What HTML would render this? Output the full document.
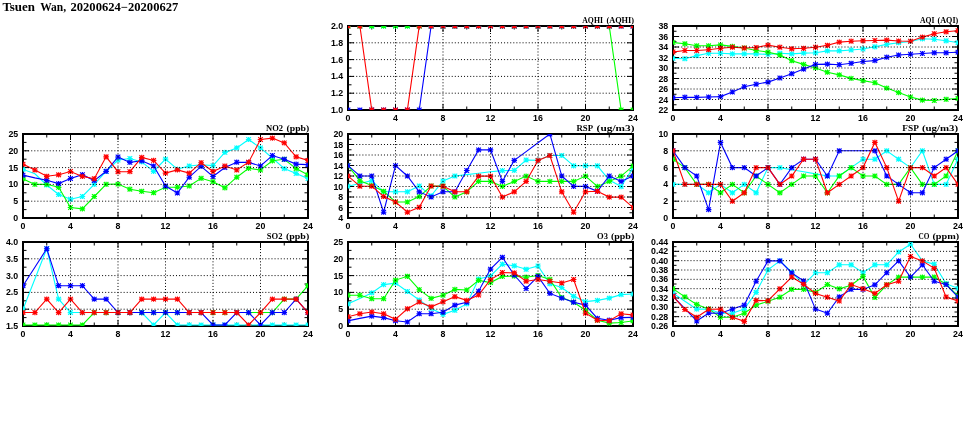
<!DOCTYPE html>
<html><head><meta charset="utf-8"><style>html,body{margin:0;padding:0;background:#fff;width:975px;height:447px;overflow:hidden}svg{display:block;will-change:transform}</style></head>
<body><svg width="975" height="447" viewBox="0 0 975 447">
<rect width="975" height="447" fill="#fff"/>
<g font-family="Liberation Serif, serif" font-weight="bold" font-size="11.8"><text x="2.4" y="10.9" textLength="32.6" lengthAdjust="spacingAndGlyphs">Tsuen</text><text x="40.2" y="10.9" textLength="25.9" lengthAdjust="spacingAndGlyphs">Wan,</text><text x="70.5" y="10.9" textLength="107.8" lengthAdjust="spacingAndGlyphs">20200624&#8722;20200627</text></g>
<path d="M371.750 26v3.5M371.750 110v-3.5M395.500 26v6M395.500 110v-6M419.250 26v3.5M419.250 110v-3.5M443.000 26v6M443.000 110v-6M466.750 26v3.5M466.750 110v-3.5M490.500 26v6M490.500 110v-6M514.250 26v3.5M514.250 110v-3.5M538.000 26v6M538.000 110v-6M561.750 26v3.5M561.750 110v-3.5M585.500 26v6M585.500 110v-6M609.250 26v3.5M609.250 110v-3.5M348 101.600h3.5M633 101.600h-3.5M348 93.200h6M633 93.200h-6M348 84.800h3.5M633 84.800h-3.5M348 76.400h6M633 76.400h-6M348 68.000h3.5M633 68.000h-3.5M348 59.600h6M633 59.600h-6M348 51.200h3.5M633 51.200h-3.5M348 42.800h6M633 42.800h-6M348 34.400h3.5M633 34.400h-3.5" stroke="#000" stroke-width="1"/>
<rect x="348" y="26" width="285" height="84" fill="none" stroke="#000" stroke-width="2"/>
<clipPath id="clipAQHI"><rect x="348" y="26" width="285" height="84"/></clipPath>
<clipPath id="clipAQHIi"><rect x="349" y="27" width="283" height="82"/></clipPath>
<g>
<path clip-path="url(#clipAQHIi)" d="M348.00 26.00L359.88 26.00L371.75 26.00L383.62 26.00L395.50 26.00L407.38 26.00L419.25 26.00L431.12 26.00L443.00 26.00L454.88 26.00L466.75 26.00L478.62 26.00L490.50 26.00L502.38 26.00L514.25 26.00L526.12 26.00L538.00 26.00L549.88 26.00L561.75 26.00L573.62 26.00L585.50 26.00L597.38 26.00L609.25 26.00L621.12 26.00L633.00 26.00" fill="none" stroke="#00ffff" stroke-width="1.1"/>
<path clip-path="url(#clipAQHI)" d="M345.20 26.00H350.80M348.00 23.40V28.60M345.70 23.70L350.30 28.30M345.70 28.30L350.30 23.70M357.07 26.00H362.68M359.88 23.40V28.60M357.57 23.70L362.18 28.30M357.57 28.30L362.18 23.70M368.95 26.00H374.55M371.75 23.40V28.60M369.45 23.70L374.05 28.30M369.45 28.30L374.05 23.70M380.82 26.00H386.43M383.62 23.40V28.60M381.32 23.70L385.93 28.30M381.32 28.30L385.93 23.70M392.70 26.00H398.30M395.50 23.40V28.60M393.20 23.70L397.80 28.30M393.20 28.30L397.80 23.70M404.57 26.00H410.18M407.38 23.40V28.60M405.07 23.70L409.68 28.30M405.07 28.30L409.68 23.70M416.45 26.00H422.05M419.25 23.40V28.60M416.95 23.70L421.55 28.30M416.95 28.30L421.55 23.70M428.32 26.00H433.93M431.12 23.40V28.60M428.82 23.70L433.43 28.30M428.82 28.30L433.43 23.70M440.20 26.00H445.80M443.00 23.40V28.60M440.70 23.70L445.30 28.30M440.70 28.30L445.30 23.70M452.07 26.00H457.68M454.88 23.40V28.60M452.57 23.70L457.18 28.30M452.57 28.30L457.18 23.70M463.95 26.00H469.55M466.75 23.40V28.60M464.45 23.70L469.05 28.30M464.45 28.30L469.05 23.70M475.82 26.00H481.43M478.62 23.40V28.60M476.32 23.70L480.93 28.30M476.32 28.30L480.93 23.70M487.70 26.00H493.30M490.50 23.40V28.60M488.20 23.70L492.80 28.30M488.20 28.30L492.80 23.70M499.57 26.00H505.18M502.38 23.40V28.60M500.07 23.70L504.68 28.30M500.07 28.30L504.68 23.70M511.45 26.00H517.05M514.25 23.40V28.60M511.95 23.70L516.55 28.30M511.95 28.30L516.55 23.70M523.33 26.00H528.92M526.12 23.40V28.60M523.83 23.70L528.42 28.30M523.83 28.30L528.42 23.70M535.20 26.00H540.80M538.00 23.40V28.60M535.70 23.70L540.30 28.30M535.70 28.30L540.30 23.70M547.08 26.00H552.67M549.88 23.40V28.60M547.58 23.70L552.17 28.30M547.58 28.30L552.17 23.70M558.95 26.00H564.55M561.75 23.40V28.60M559.45 23.70L564.05 28.30M559.45 28.30L564.05 23.70M570.83 26.00H576.42M573.62 23.40V28.60M571.33 23.70L575.92 28.30M571.33 28.30L575.92 23.70M582.70 26.00H588.30M585.50 23.40V28.60M583.20 23.70L587.80 28.30M583.20 28.30L587.80 23.70M594.58 26.00H600.17M597.38 23.40V28.60M595.08 23.70L599.67 28.30M595.08 28.30L599.67 23.70M606.45 26.00H612.05M609.25 23.40V28.60M606.95 23.70L611.55 28.30M606.95 28.30L611.55 23.70M618.33 26.00H623.92M621.12 23.40V28.60M618.83 23.70L623.42 28.30M618.83 28.30L623.42 23.70M630.20 26.00H635.80M633.00 23.40V28.60M630.70 23.70L635.30 28.30M630.70 28.30L635.30 23.70" fill="none" stroke="#00ffff" stroke-width="1.15"/>
<path clip-path="url(#clipAQHIi)" d="M348.00 26.00L359.88 26.00L371.75 26.00L383.62 26.00L395.50 26.00L407.38 26.00L419.25 26.00L431.12 26.00L443.00 26.00L454.88 26.00L466.75 26.00L478.62 26.00L490.50 26.00L502.38 26.00L514.25 26.00L526.12 26.00L538.00 26.00L549.88 26.00L561.75 26.00L573.62 26.00L585.50 26.00L597.38 26.00L609.25 26.00L621.12 110.00L633.00 110.00" fill="none" stroke="#00ff00" stroke-width="1.1"/>
<path clip-path="url(#clipAQHI)" d="M345.20 26.00H350.80M348.00 23.40V28.60M345.70 23.70L350.30 28.30M345.70 28.30L350.30 23.70M357.07 26.00H362.68M359.88 23.40V28.60M357.57 23.70L362.18 28.30M357.57 28.30L362.18 23.70M368.95 26.00H374.55M371.75 23.40V28.60M369.45 23.70L374.05 28.30M369.45 28.30L374.05 23.70M380.82 26.00H386.43M383.62 23.40V28.60M381.32 23.70L385.93 28.30M381.32 28.30L385.93 23.70M392.70 26.00H398.30M395.50 23.40V28.60M393.20 23.70L397.80 28.30M393.20 28.30L397.80 23.70M404.57 26.00H410.18M407.38 23.40V28.60M405.07 23.70L409.68 28.30M405.07 28.30L409.68 23.70M416.45 26.00H422.05M419.25 23.40V28.60M416.95 23.70L421.55 28.30M416.95 28.30L421.55 23.70M428.32 26.00H433.93M431.12 23.40V28.60M428.82 23.70L433.43 28.30M428.82 28.30L433.43 23.70M440.20 26.00H445.80M443.00 23.40V28.60M440.70 23.70L445.30 28.30M440.70 28.30L445.30 23.70M452.07 26.00H457.68M454.88 23.40V28.60M452.57 23.70L457.18 28.30M452.57 28.30L457.18 23.70M463.95 26.00H469.55M466.75 23.40V28.60M464.45 23.70L469.05 28.30M464.45 28.30L469.05 23.70M475.82 26.00H481.43M478.62 23.40V28.60M476.32 23.70L480.93 28.30M476.32 28.30L480.93 23.70M487.70 26.00H493.30M490.50 23.40V28.60M488.20 23.70L492.80 28.30M488.20 28.30L492.80 23.70M499.57 26.00H505.18M502.38 23.40V28.60M500.07 23.70L504.68 28.30M500.07 28.30L504.68 23.70M511.45 26.00H517.05M514.25 23.40V28.60M511.95 23.70L516.55 28.30M511.95 28.30L516.55 23.70M523.33 26.00H528.92M526.12 23.40V28.60M523.83 23.70L528.42 28.30M523.83 28.30L528.42 23.70M535.20 26.00H540.80M538.00 23.40V28.60M535.70 23.70L540.30 28.30M535.70 28.30L540.30 23.70M547.08 26.00H552.67M549.88 23.40V28.60M547.58 23.70L552.17 28.30M547.58 28.30L552.17 23.70M558.95 26.00H564.55M561.75 23.40V28.60M559.45 23.70L564.05 28.30M559.45 28.30L564.05 23.70M570.83 26.00H576.42M573.62 23.40V28.60M571.33 23.70L575.92 28.30M571.33 28.30L575.92 23.70M582.70 26.00H588.30M585.50 23.40V28.60M583.20 23.70L587.80 28.30M583.20 28.30L587.80 23.70M594.58 26.00H600.17M597.38 23.40V28.60M595.08 23.70L599.67 28.30M595.08 28.30L599.67 23.70M606.45 26.00H612.05M609.25 23.40V28.60M606.95 23.70L611.55 28.30M606.95 28.30L611.55 23.70M618.33 110.00H623.92M621.12 107.40V112.60M618.83 107.70L623.42 112.30M618.83 112.30L623.42 107.70M630.20 110.00H635.80M633.00 107.40V112.60M630.70 107.70L635.30 112.30M630.70 112.30L635.30 107.70" fill="none" stroke="#00ff00" stroke-width="1.15"/>
<path clip-path="url(#clipAQHIi)" d="M348.00 110.00L359.88 110.00L371.75 110.00L383.62 110.00L395.50 110.00L407.38 110.00L419.25 110.00L431.12 26.00L443.00 26.00L454.88 26.00L466.75 26.00L478.62 26.00L490.50 26.00L502.38 26.00L514.25 26.00L526.12 26.00L538.00 26.00L549.88 26.00L561.75 26.00L573.62 26.00L585.50 26.00L597.38 26.00L609.25 26.00L621.12 26.00L633.00 26.00" fill="none" stroke="#0000ff" stroke-width="1.1"/>
<path clip-path="url(#clipAQHI)" d="M345.20 110.00H350.80M348.00 107.40V112.60M345.70 107.70L350.30 112.30M345.70 112.30L350.30 107.70M357.07 110.00H362.68M359.88 107.40V112.60M357.57 107.70L362.18 112.30M357.57 112.30L362.18 107.70M368.95 110.00H374.55M371.75 107.40V112.60M369.45 107.70L374.05 112.30M369.45 112.30L374.05 107.70M380.82 110.00H386.43M383.62 107.40V112.60M381.32 107.70L385.93 112.30M381.32 112.30L385.93 107.70M392.70 110.00H398.30M395.50 107.40V112.60M393.20 107.70L397.80 112.30M393.20 112.30L397.80 107.70M404.57 110.00H410.18M407.38 107.40V112.60M405.07 107.70L409.68 112.30M405.07 112.30L409.68 107.70M416.45 110.00H422.05M419.25 107.40V112.60M416.95 107.70L421.55 112.30M416.95 112.30L421.55 107.70M428.32 26.00H433.93M431.12 23.40V28.60M428.82 23.70L433.43 28.30M428.82 28.30L433.43 23.70M440.20 26.00H445.80M443.00 23.40V28.60M440.70 23.70L445.30 28.30M440.70 28.30L445.30 23.70M452.07 26.00H457.68M454.88 23.40V28.60M452.57 23.70L457.18 28.30M452.57 28.30L457.18 23.70M463.95 26.00H469.55M466.75 23.40V28.60M464.45 23.70L469.05 28.30M464.45 28.30L469.05 23.70M475.82 26.00H481.43M478.62 23.40V28.60M476.32 23.70L480.93 28.30M476.32 28.30L480.93 23.70M487.70 26.00H493.30M490.50 23.40V28.60M488.20 23.70L492.80 28.30M488.20 28.30L492.80 23.70M499.57 26.00H505.18M502.38 23.40V28.60M500.07 23.70L504.68 28.30M500.07 28.30L504.68 23.70M511.45 26.00H517.05M514.25 23.40V28.60M511.95 23.70L516.55 28.30M511.95 28.30L516.55 23.70M523.33 26.00H528.92M526.12 23.40V28.60M523.83 23.70L528.42 28.30M523.83 28.30L528.42 23.70M535.20 26.00H540.80M538.00 23.40V28.60M535.70 23.70L540.30 28.30M535.70 28.30L540.30 23.70M547.08 26.00H552.67M549.88 23.40V28.60M547.58 23.70L552.17 28.30M547.58 28.30L552.17 23.70M558.95 26.00H564.55M561.75 23.40V28.60M559.45 23.70L564.05 28.30M559.45 28.30L564.05 23.70M570.83 26.00H576.42M573.62 23.40V28.60M571.33 23.70L575.92 28.30M571.33 28.30L575.92 23.70M582.70 26.00H588.30M585.50 23.40V28.60M583.20 23.70L587.80 28.30M583.20 28.30L587.80 23.70M594.58 26.00H600.17M597.38 23.40V28.60M595.08 23.70L599.67 28.30M595.08 28.30L599.67 23.70M606.45 26.00H612.05M609.25 23.40V28.60M606.95 23.70L611.55 28.30M606.95 28.30L611.55 23.70M618.33 26.00H623.92M621.12 23.40V28.60M618.83 23.70L623.42 28.30M618.83 28.30L623.42 23.70M630.20 26.00H635.80M633.00 23.40V28.60M630.70 23.70L635.30 28.30M630.70 28.30L635.30 23.70" fill="none" stroke="#0000ff" stroke-width="1.15"/>
<path clip-path="url(#clipAQHIi)" d="M348.00 26.00L359.88 26.00L371.75 110.00L383.62 110.00L395.50 110.00L407.38 110.00L419.25 26.00L431.12 26.00L443.00 26.00L454.88 26.00L466.75 26.00L478.62 26.00L490.50 26.00L502.38 26.00L514.25 26.00L526.12 26.00L538.00 26.00L549.88 26.00L561.75 26.00L573.62 26.00L585.50 26.00L597.38 26.00L609.25 26.00L621.12 26.00L633.00 26.00" fill="none" stroke="#ff0000" stroke-width="1.1"/>
<path clip-path="url(#clipAQHI)" d="M345.20 26.00H350.80M348.00 23.40V28.60M345.70 23.70L350.30 28.30M345.70 28.30L350.30 23.70M357.07 26.00H362.68M359.88 23.40V28.60M357.57 23.70L362.18 28.30M357.57 28.30L362.18 23.70M368.95 110.00H374.55M371.75 107.40V112.60M369.45 107.70L374.05 112.30M369.45 112.30L374.05 107.70M380.82 110.00H386.43M383.62 107.40V112.60M381.32 107.70L385.93 112.30M381.32 112.30L385.93 107.70M392.70 110.00H398.30M395.50 107.40V112.60M393.20 107.70L397.80 112.30M393.20 112.30L397.80 107.70M404.57 110.00H410.18M407.38 107.40V112.60M405.07 107.70L409.68 112.30M405.07 112.30L409.68 107.70M416.45 26.00H422.05M419.25 23.40V28.60M416.95 23.70L421.55 28.30M416.95 28.30L421.55 23.70M428.32 26.00H433.93M431.12 23.40V28.60M428.82 23.70L433.43 28.30M428.82 28.30L433.43 23.70M440.20 26.00H445.80M443.00 23.40V28.60M440.70 23.70L445.30 28.30M440.70 28.30L445.30 23.70M452.07 26.00H457.68M454.88 23.40V28.60M452.57 23.70L457.18 28.30M452.57 28.30L457.18 23.70M463.95 26.00H469.55M466.75 23.40V28.60M464.45 23.70L469.05 28.30M464.45 28.30L469.05 23.70M475.82 26.00H481.43M478.62 23.40V28.60M476.32 23.70L480.93 28.30M476.32 28.30L480.93 23.70M487.70 26.00H493.30M490.50 23.40V28.60M488.20 23.70L492.80 28.30M488.20 28.30L492.80 23.70M499.57 26.00H505.18M502.38 23.40V28.60M500.07 23.70L504.68 28.30M500.07 28.30L504.68 23.70M511.45 26.00H517.05M514.25 23.40V28.60M511.95 23.70L516.55 28.30M511.95 28.30L516.55 23.70M523.33 26.00H528.92M526.12 23.40V28.60M523.83 23.70L528.42 28.30M523.83 28.30L528.42 23.70M535.20 26.00H540.80M538.00 23.40V28.60M535.70 23.70L540.30 28.30M535.70 28.30L540.30 23.70M547.08 26.00H552.67M549.88 23.40V28.60M547.58 23.70L552.17 28.30M547.58 28.30L552.17 23.70M558.95 26.00H564.55M561.75 23.40V28.60M559.45 23.70L564.05 28.30M559.45 28.30L564.05 23.70M570.83 26.00H576.42M573.62 23.40V28.60M571.33 23.70L575.92 28.30M571.33 28.30L575.92 23.70M582.70 26.00H588.30M585.50 23.40V28.60M583.20 23.70L587.80 28.30M583.20 28.30L587.80 23.70M594.58 26.00H600.17M597.38 23.40V28.60M595.08 23.70L599.67 28.30M595.08 28.30L599.67 23.70M606.45 26.00H612.05M609.25 23.40V28.60M606.95 23.70L611.55 28.30M606.95 28.30L611.55 23.70M618.33 26.00H623.92M621.12 23.40V28.60M618.83 23.70L623.42 28.30M618.83 28.30L623.42 23.70M630.20 26.00H635.80M633.00 23.40V28.60M630.70 23.70L635.30 28.30M630.70 28.30L635.30 23.70" fill="none" stroke="#ff0000" stroke-width="1.15"/>
</g>
<path d="M395.500 110V26M443.000 110V26M490.500 110V26M538.000 110V26M585.500 110V26M348 93.200H633M348 76.400H633M348 59.600H633M348 42.800H633" stroke="#000" stroke-width="1" stroke-dasharray="1 2.08" stroke-dashoffset="1"/>
<g font-family="Liberation Sans, sans-serif" font-weight="bold" font-size="8.8"><text x="343.2" y="113.00" text-anchor="end">1.0</text><text x="343.2" y="96.20" text-anchor="end">1.2</text><text x="343.2" y="79.40" text-anchor="end">1.4</text><text x="343.2" y="62.60" text-anchor="end">1.6</text><text x="343.2" y="45.80" text-anchor="end">1.8</text><text x="343.2" y="29.00" text-anchor="end">2.0</text><text x="348.00" y="121.20" text-anchor="middle">0</text><text x="395.50" y="121.20" text-anchor="middle">4</text><text x="443.00" y="121.20" text-anchor="middle">8</text><text x="490.50" y="121.20" text-anchor="middle">12</text><text x="538.00" y="121.20" text-anchor="middle">16</text><text x="585.50" y="121.20" text-anchor="middle">20</text><text x="633.00" y="121.20" text-anchor="middle">24</text></g>
<g font-family="Liberation Serif, serif" font-weight="bold" font-size="9"><text x="582.30" y="22.70" textLength="20.60" lengthAdjust="spacingAndGlyphs">AQHI</text><text x="606.40" y="22.70" textLength="27.70" lengthAdjust="spacingAndGlyphs">(AQHI)</text></g>
<path d="M696.750 26v3.5M696.750 110v-3.5M720.500 26v6M720.500 110v-6M744.250 26v3.5M744.250 110v-3.5M768.000 26v6M768.000 110v-6M791.750 26v3.5M791.750 110v-3.5M815.500 26v6M815.500 110v-6M839.250 26v3.5M839.250 110v-3.5M863.000 26v6M863.000 110v-6M886.750 26v3.5M886.750 110v-3.5M910.500 26v6M910.500 110v-6M934.250 26v3.5M934.250 110v-3.5M673 104.750h3.5M958 104.750h-3.5M673 99.500h6M958 99.500h-6M673 94.250h3.5M958 94.250h-3.5M673 89.000h6M958 89.000h-6M673 83.750h3.5M958 83.750h-3.5M673 78.500h6M958 78.500h-6M673 73.250h3.5M958 73.250h-3.5M673 68.000h6M958 68.000h-6M673 62.750h3.5M958 62.750h-3.5M673 57.500h6M958 57.500h-6M673 52.250h3.5M958 52.250h-3.5M673 47.000h6M958 47.000h-6M673 41.750h3.5M958 41.750h-3.5M673 36.500h6M958 36.500h-6M673 31.250h3.5M958 31.250h-3.5" stroke="#000" stroke-width="1"/>
<rect x="673" y="26" width="285" height="84" fill="none" stroke="#000" stroke-width="2"/>
<clipPath id="clipAQI"><rect x="673" y="26" width="285" height="84"/></clipPath>
<clipPath id="clipAQIi"><rect x="674" y="27" width="283" height="82"/></clipPath>
<g>
<path clip-path="url(#clipAQIi)" d="M673.00 58.40L684.88 58.70L696.75 55.60L708.62 53.30L720.50 53.30L732.38 53.90L744.25 53.90L756.12 53.90L768.00 54.40L779.88 53.30L791.75 53.90L803.62 53.10L815.50 52.80L827.38 50.90L839.25 50.90L851.12 50.00L863.00 49.00L874.88 46.80L886.75 44.40L898.62 42.70L910.50 41.50L922.38 38.80L934.25 39.30L946.12 40.80L958.00 42.70" fill="none" stroke="#00ffff" stroke-width="1.1"/>
<path clip-path="url(#clipAQI)" d="M670.20 58.40H675.80M673.00 55.80V61.00M670.70 56.10L675.30 60.70M670.70 60.70L675.30 56.10M682.08 58.70H687.67M684.88 56.10V61.30M682.58 56.40L687.17 61.00M682.58 61.00L687.17 56.40M693.95 55.60H699.55M696.75 53.00V58.20M694.45 53.30L699.05 57.90M694.45 57.90L699.05 53.30M705.83 53.30H711.42M708.62 50.70V55.90M706.33 51.00L710.92 55.60M706.33 55.60L710.92 51.00M717.70 53.30H723.30M720.50 50.70V55.90M718.20 51.00L722.80 55.60M718.20 55.60L722.80 51.00M729.58 53.90H735.17M732.38 51.30V56.50M730.08 51.60L734.67 56.20M730.08 56.20L734.67 51.60M741.45 53.90H747.05M744.25 51.30V56.50M741.95 51.60L746.55 56.20M741.95 56.20L746.55 51.60M753.33 53.90H758.92M756.12 51.30V56.50M753.83 51.60L758.42 56.20M753.83 56.20L758.42 51.60M765.20 54.40H770.80M768.00 51.80V57.00M765.70 52.10L770.30 56.70M765.70 56.70L770.30 52.10M777.08 53.30H782.67M779.88 50.70V55.90M777.58 51.00L782.17 55.60M777.58 55.60L782.17 51.00M788.95 53.90H794.55M791.75 51.30V56.50M789.45 51.60L794.05 56.20M789.45 56.20L794.05 51.60M800.83 53.10H806.42M803.62 50.50V55.70M801.33 50.80L805.92 55.40M801.33 55.40L805.92 50.80M812.70 52.80H818.30M815.50 50.20V55.40M813.20 50.50L817.80 55.10M813.20 55.10L817.80 50.50M824.58 50.90H830.17M827.38 48.30V53.50M825.08 48.60L829.67 53.20M825.08 53.20L829.67 48.60M836.45 50.90H842.05M839.25 48.30V53.50M836.95 48.60L841.55 53.20M836.95 53.20L841.55 48.60M848.33 50.00H853.92M851.12 47.40V52.60M848.83 47.70L853.42 52.30M848.83 52.30L853.42 47.70M860.20 49.00H865.80M863.00 46.40V51.60M860.70 46.70L865.30 51.30M860.70 51.30L865.30 46.70M872.08 46.80H877.67M874.88 44.20V49.40M872.58 44.50L877.17 49.10M872.58 49.10L877.17 44.50M883.95 44.40H889.55M886.75 41.80V47.00M884.45 42.10L889.05 46.70M884.45 46.70L889.05 42.10M895.83 42.70H901.42M898.62 40.10V45.30M896.33 40.40L900.92 45.00M896.33 45.00L900.92 40.40M907.70 41.50H913.30M910.50 38.90V44.10M908.20 39.20L912.80 43.80M908.20 43.80L912.80 39.20M919.58 38.80H925.17M922.38 36.20V41.40M920.08 36.50L924.67 41.10M920.08 41.10L924.67 36.50M931.45 39.30H937.05M934.25 36.70V41.90M931.95 37.00L936.55 41.60M931.95 41.60L936.55 37.00M943.33 40.80H948.92M946.12 38.20V43.40M943.83 38.50L948.42 43.10M943.83 43.10L948.42 38.50M955.20 42.70H960.80M958.00 40.10V45.30M955.70 40.40L960.30 45.00M955.70 45.00L960.30 40.40" fill="none" stroke="#00ffff" stroke-width="1.15"/>
<path clip-path="url(#clipAQIi)" d="M673.00 42.50L684.88 43.80L696.75 45.80L708.62 45.80L720.50 44.90L732.38 46.40L744.25 48.00L756.12 50.50L768.00 52.10L779.88 55.00L791.75 60.70L803.62 64.40L815.50 67.90L827.38 72.20L839.25 74.90L851.12 78.40L863.00 80.60L874.88 82.70L886.75 88.10L898.62 92.60L910.50 97.00L922.38 100.10L934.25 100.50L946.12 99.30L958.00 98.40" fill="none" stroke="#00ff00" stroke-width="1.1"/>
<path clip-path="url(#clipAQI)" d="M670.20 42.50H675.80M673.00 39.90V45.10M670.70 40.20L675.30 44.80M670.70 44.80L675.30 40.20M682.08 43.80H687.67M684.88 41.20V46.40M682.58 41.50L687.17 46.10M682.58 46.10L687.17 41.50M693.95 45.80H699.55M696.75 43.20V48.40M694.45 43.50L699.05 48.10M694.45 48.10L699.05 43.50M705.83 45.80H711.42M708.62 43.20V48.40M706.33 43.50L710.92 48.10M706.33 48.10L710.92 43.50M717.70 44.90H723.30M720.50 42.30V47.50M718.20 42.60L722.80 47.20M718.20 47.20L722.80 42.60M729.58 46.40H735.17M732.38 43.80V49.00M730.08 44.10L734.67 48.70M730.08 48.70L734.67 44.10M741.45 48.00H747.05M744.25 45.40V50.60M741.95 45.70L746.55 50.30M741.95 50.30L746.55 45.70M753.33 50.50H758.92M756.12 47.90V53.10M753.83 48.20L758.42 52.80M753.83 52.80L758.42 48.20M765.20 52.10H770.80M768.00 49.50V54.70M765.70 49.80L770.30 54.40M765.70 54.40L770.30 49.80M777.08 55.00H782.67M779.88 52.40V57.60M777.58 52.70L782.17 57.30M777.58 57.30L782.17 52.70M788.95 60.70H794.55M791.75 58.10V63.30M789.45 58.40L794.05 63.00M789.45 63.00L794.05 58.40M800.83 64.40H806.42M803.62 61.80V67.00M801.33 62.10L805.92 66.70M801.33 66.70L805.92 62.10M812.70 67.90H818.30M815.50 65.30V70.50M813.20 65.60L817.80 70.20M813.20 70.20L817.80 65.60M824.58 72.20H830.17M827.38 69.60V74.80M825.08 69.90L829.67 74.50M825.08 74.50L829.67 69.90M836.45 74.90H842.05M839.25 72.30V77.50M836.95 72.60L841.55 77.20M836.95 77.20L841.55 72.60M848.33 78.40H853.92M851.12 75.80V81.00M848.83 76.10L853.42 80.70M848.83 80.70L853.42 76.10M860.20 80.60H865.80M863.00 78.00V83.20M860.70 78.30L865.30 82.90M860.70 82.90L865.30 78.30M872.08 82.70H877.67M874.88 80.10V85.30M872.58 80.40L877.17 85.00M872.58 85.00L877.17 80.40M883.95 88.10H889.55M886.75 85.50V90.70M884.45 85.80L889.05 90.40M884.45 90.40L889.05 85.80M895.83 92.60H901.42M898.62 90.00V95.20M896.33 90.30L900.92 94.90M896.33 94.90L900.92 90.30M907.70 97.00H913.30M910.50 94.40V99.60M908.20 94.70L912.80 99.30M908.20 99.30L912.80 94.70M919.58 100.10H925.17M922.38 97.50V102.70M920.08 97.80L924.67 102.40M920.08 102.40L924.67 97.80M931.45 100.50H937.05M934.25 97.90V103.10M931.95 98.20L936.55 102.80M931.95 102.80L936.55 98.20M943.33 99.30H948.92M946.12 96.70V101.90M943.83 97.00L948.42 101.60M943.83 101.60L948.42 97.00M955.20 98.40H960.80M958.00 95.80V101.00M955.70 96.10L960.30 100.70M955.70 100.70L960.30 96.10" fill="none" stroke="#00ff00" stroke-width="1.15"/>
<path clip-path="url(#clipAQIi)" d="M673.00 97.80L684.88 97.20L696.75 97.40L708.62 97.00L720.50 96.60L732.38 92.00L744.25 86.70L756.12 84.20L768.00 82.10L779.88 78.00L791.75 73.70L803.62 69.10L815.50 64.40L827.38 64.10L839.25 64.70L851.12 63.30L863.00 61.50L874.88 60.60L886.75 57.20L898.62 55.00L910.50 54.20L922.38 53.50L934.25 52.80L946.12 52.80L958.00 52.20" fill="none" stroke="#0000ff" stroke-width="1.1"/>
<path clip-path="url(#clipAQI)" d="M670.20 97.80H675.80M673.00 95.20V100.40M670.70 95.50L675.30 100.10M670.70 100.10L675.30 95.50M682.08 97.20H687.67M684.88 94.60V99.80M682.58 94.90L687.17 99.50M682.58 99.50L687.17 94.90M693.95 97.40H699.55M696.75 94.80V100.00M694.45 95.10L699.05 99.70M694.45 99.70L699.05 95.10M705.83 97.00H711.42M708.62 94.40V99.60M706.33 94.70L710.92 99.30M706.33 99.30L710.92 94.70M717.70 96.60H723.30M720.50 94.00V99.20M718.20 94.30L722.80 98.90M718.20 98.90L722.80 94.30M729.58 92.00H735.17M732.38 89.40V94.60M730.08 89.70L734.67 94.30M730.08 94.30L734.67 89.70M741.45 86.70H747.05M744.25 84.10V89.30M741.95 84.40L746.55 89.00M741.95 89.00L746.55 84.40M753.33 84.20H758.92M756.12 81.60V86.80M753.83 81.90L758.42 86.50M753.83 86.50L758.42 81.90M765.20 82.10H770.80M768.00 79.50V84.70M765.70 79.80L770.30 84.40M765.70 84.40L770.30 79.80M777.08 78.00H782.67M779.88 75.40V80.60M777.58 75.70L782.17 80.30M777.58 80.30L782.17 75.70M788.95 73.70H794.55M791.75 71.10V76.30M789.45 71.40L794.05 76.00M789.45 76.00L794.05 71.40M800.83 69.10H806.42M803.62 66.50V71.70M801.33 66.80L805.92 71.40M801.33 71.40L805.92 66.80M812.70 64.40H818.30M815.50 61.80V67.00M813.20 62.10L817.80 66.70M813.20 66.70L817.80 62.10M824.58 64.10H830.17M827.38 61.50V66.70M825.08 61.80L829.67 66.40M825.08 66.40L829.67 61.80M836.45 64.70H842.05M839.25 62.10V67.30M836.95 62.40L841.55 67.00M836.95 67.00L841.55 62.40M848.33 63.30H853.92M851.12 60.70V65.90M848.83 61.00L853.42 65.60M848.83 65.60L853.42 61.00M860.20 61.50H865.80M863.00 58.90V64.10M860.70 59.20L865.30 63.80M860.70 63.80L865.30 59.20M872.08 60.60H877.67M874.88 58.00V63.20M872.58 58.30L877.17 62.90M872.58 62.90L877.17 58.30M883.95 57.20H889.55M886.75 54.60V59.80M884.45 54.90L889.05 59.50M884.45 59.50L889.05 54.90M895.83 55.00H901.42M898.62 52.40V57.60M896.33 52.70L900.92 57.30M896.33 57.30L900.92 52.70M907.70 54.20H913.30M910.50 51.60V56.80M908.20 51.90L912.80 56.50M908.20 56.50L912.80 51.90M919.58 53.50H925.17M922.38 50.90V56.10M920.08 51.20L924.67 55.80M920.08 55.80L924.67 51.20M931.45 52.80H937.05M934.25 50.20V55.40M931.95 50.50L936.55 55.10M931.95 55.10L936.55 50.50M943.33 52.80H948.92M946.12 50.20V55.40M943.83 50.50L948.42 55.10M943.83 55.10L948.42 50.50M955.20 52.20H960.80M958.00 49.60V54.80M955.70 49.90L960.30 54.50M955.70 54.50L960.30 49.90" fill="none" stroke="#0000ff" stroke-width="1.15"/>
<path clip-path="url(#clipAQIi)" d="M673.00 52.00L684.88 50.50L696.75 50.50L708.62 49.70L720.50 48.30L732.38 47.20L744.25 48.00L756.12 47.50L768.00 45.10L779.88 47.20L791.75 48.80L803.62 48.30L815.50 47.20L827.38 45.30L839.25 42.10L851.12 41.20L863.00 40.80L874.88 40.50L886.75 40.10L898.62 41.00L910.50 41.20L922.38 37.10L934.25 33.70L946.12 31.80L958.00 30.70" fill="none" stroke="#ff0000" stroke-width="1.1"/>
<path clip-path="url(#clipAQI)" d="M670.20 52.00H675.80M673.00 49.40V54.60M670.70 49.70L675.30 54.30M670.70 54.30L675.30 49.70M682.08 50.50H687.67M684.88 47.90V53.10M682.58 48.20L687.17 52.80M682.58 52.80L687.17 48.20M693.95 50.50H699.55M696.75 47.90V53.10M694.45 48.20L699.05 52.80M694.45 52.80L699.05 48.20M705.83 49.70H711.42M708.62 47.10V52.30M706.33 47.40L710.92 52.00M706.33 52.00L710.92 47.40M717.70 48.30H723.30M720.50 45.70V50.90M718.20 46.00L722.80 50.60M718.20 50.60L722.80 46.00M729.58 47.20H735.17M732.38 44.60V49.80M730.08 44.90L734.67 49.50M730.08 49.50L734.67 44.90M741.45 48.00H747.05M744.25 45.40V50.60M741.95 45.70L746.55 50.30M741.95 50.30L746.55 45.70M753.33 47.50H758.92M756.12 44.90V50.10M753.83 45.20L758.42 49.80M753.83 49.80L758.42 45.20M765.20 45.10H770.80M768.00 42.50V47.70M765.70 42.80L770.30 47.40M765.70 47.40L770.30 42.80M777.08 47.20H782.67M779.88 44.60V49.80M777.58 44.90L782.17 49.50M777.58 49.50L782.17 44.90M788.95 48.80H794.55M791.75 46.20V51.40M789.45 46.50L794.05 51.10M789.45 51.10L794.05 46.50M800.83 48.30H806.42M803.62 45.70V50.90M801.33 46.00L805.92 50.60M801.33 50.60L805.92 46.00M812.70 47.20H818.30M815.50 44.60V49.80M813.20 44.90L817.80 49.50M813.20 49.50L817.80 44.90M824.58 45.30H830.17M827.38 42.70V47.90M825.08 43.00L829.67 47.60M825.08 47.60L829.67 43.00M836.45 42.10H842.05M839.25 39.50V44.70M836.95 39.80L841.55 44.40M836.95 44.40L841.55 39.80M848.33 41.20H853.92M851.12 38.60V43.80M848.83 38.90L853.42 43.50M848.83 43.50L853.42 38.90M860.20 40.80H865.80M863.00 38.20V43.40M860.70 38.50L865.30 43.10M860.70 43.10L865.30 38.50M872.08 40.50H877.67M874.88 37.90V43.10M872.58 38.20L877.17 42.80M872.58 42.80L877.17 38.20M883.95 40.10H889.55M886.75 37.50V42.70M884.45 37.80L889.05 42.40M884.45 42.40L889.05 37.80M895.83 41.00H901.42M898.62 38.40V43.60M896.33 38.70L900.92 43.30M896.33 43.30L900.92 38.70M907.70 41.20H913.30M910.50 38.60V43.80M908.20 38.90L912.80 43.50M908.20 43.50L912.80 38.90M919.58 37.10H925.17M922.38 34.50V39.70M920.08 34.80L924.67 39.40M920.08 39.40L924.67 34.80M931.45 33.70H937.05M934.25 31.10V36.30M931.95 31.40L936.55 36.00M931.95 36.00L936.55 31.40M943.33 31.80H948.92M946.12 29.20V34.40M943.83 29.50L948.42 34.10M943.83 34.10L948.42 29.50M955.20 30.70H960.80M958.00 28.10V33.30M955.70 28.40L960.30 33.00M955.70 33.00L960.30 28.40" fill="none" stroke="#ff0000" stroke-width="1.15"/>
</g>
<path d="M720.500 110V26M768.000 110V26M815.500 110V26M863.000 110V26M910.500 110V26M673 99.500H958M673 89.000H958M673 78.500H958M673 68.000H958M673 57.500H958M673 47.000H958M673 36.500H958" stroke="#000" stroke-width="1" stroke-dasharray="1 2.08" stroke-dashoffset="1"/>
<g font-family="Liberation Sans, sans-serif" font-weight="bold" font-size="8.8"><text x="668.2" y="113.00" text-anchor="end">22</text><text x="668.2" y="102.50" text-anchor="end">24</text><text x="668.2" y="92.00" text-anchor="end">26</text><text x="668.2" y="81.50" text-anchor="end">28</text><text x="668.2" y="71.00" text-anchor="end">30</text><text x="668.2" y="60.50" text-anchor="end">32</text><text x="668.2" y="50.00" text-anchor="end">34</text><text x="668.2" y="39.50" text-anchor="end">36</text><text x="668.2" y="29.00" text-anchor="end">38</text><text x="673.00" y="121.20" text-anchor="middle">0</text><text x="720.50" y="121.20" text-anchor="middle">4</text><text x="768.00" y="121.20" text-anchor="middle">8</text><text x="815.50" y="121.20" text-anchor="middle">12</text><text x="863.00" y="121.20" text-anchor="middle">16</text><text x="910.50" y="121.20" text-anchor="middle">20</text><text x="958.00" y="121.20" text-anchor="middle">24</text></g>
<g font-family="Liberation Serif, serif" font-weight="bold" font-size="9"><text x="919.90" y="22.70" textLength="14.50" lengthAdjust="spacingAndGlyphs">AQI</text><text x="937.50" y="22.70" textLength="20.80" lengthAdjust="spacingAndGlyphs">(AQI)</text></g>
<path d="M46.750 134v3.5M46.750 218v-3.5M70.500 134v6M70.500 218v-6M94.250 134v3.5M94.250 218v-3.5M118.000 134v6M118.000 218v-6M141.750 134v3.5M141.750 218v-3.5M165.500 134v6M165.500 218v-6M189.250 134v3.5M189.250 218v-3.5M213.000 134v6M213.000 218v-6M236.750 134v3.5M236.750 218v-3.5M260.500 134v6M260.500 218v-6M284.250 134v3.5M284.250 218v-3.5M23 209.600h3.5M308 209.600h-3.5M23 201.200h6M308 201.200h-6M23 192.800h3.5M308 192.800h-3.5M23 184.400h6M308 184.400h-6M23 176.000h3.5M308 176.000h-3.5M23 167.600h6M308 167.600h-6M23 159.200h3.5M308 159.200h-3.5M23 150.800h6M308 150.800h-6M23 142.400h3.5M308 142.400h-3.5" stroke="#000" stroke-width="1"/>
<rect x="23" y="134" width="285" height="84" fill="none" stroke="#000" stroke-width="2"/>
<clipPath id="clipNO2"><rect x="23" y="134" width="285" height="84"/></clipPath>
<clipPath id="clipNO2i"><rect x="24" y="135" width="283" height="82"/></clipPath>
<g>
<path clip-path="url(#clipNO2i)" d="M23.00 169.40L34.88 173.80L46.75 185.00L58.62 194.50L70.50 199.20L82.38 196.50L94.25 184.30L106.12 171.50L118.00 160.00L129.88 158.50L141.75 161.90L153.62 171.40L165.50 159.10L177.38 169.10L189.25 166.00L201.12 164.70L213.00 165.60L224.88 152.40L236.75 147.90L248.62 139.50L260.50 147.90L272.38 158.00L284.25 168.60L296.12 173.50L308.00 178.50" fill="none" stroke="#00ffff" stroke-width="1.1"/>
<path clip-path="url(#clipNO2)" d="M20.20 169.40H25.80M23.00 166.80V172.00M20.70 167.10L25.30 171.70M20.70 171.70L25.30 167.10M43.95 185.00H49.55M46.75 182.40V187.60M44.45 182.70L49.05 187.30M44.45 187.30L49.05 182.70M55.83 194.50H61.42M58.62 191.90V197.10M56.33 192.20L60.92 196.80M56.33 196.80L60.92 192.20M67.70 199.20H73.30M70.50 196.60V201.80M68.20 196.90L72.80 201.50M68.20 201.50L72.80 196.90M79.58 196.50H85.17M82.38 193.90V199.10M80.08 194.20L84.67 198.80M80.08 198.80L84.67 194.20M91.45 184.30H97.05M94.25 181.70V186.90M91.95 182.00L96.55 186.60M91.95 186.60L96.55 182.00M103.33 171.50H108.92M106.12 168.90V174.10M103.83 169.20L108.42 173.80M103.83 173.80L108.42 169.20M115.20 160.00H120.80M118.00 157.40V162.60M115.70 157.70L120.30 162.30M115.70 162.30L120.30 157.70M127.08 158.50H132.68M129.88 155.90V161.10M127.58 156.20L132.18 160.80M127.58 160.80L132.18 156.20M138.95 161.90H144.55M141.75 159.30V164.50M139.45 159.60L144.05 164.20M139.45 164.20L144.05 159.60M150.82 171.40H156.43M153.62 168.80V174.00M151.32 169.10L155.93 173.70M151.32 173.70L155.93 169.10M162.70 159.10H168.30M165.50 156.50V161.70M163.20 156.80L167.80 161.40M163.20 161.40L167.80 156.80M174.57 169.10H180.18M177.38 166.50V171.70M175.07 166.80L179.68 171.40M175.07 171.40L179.68 166.80M186.45 166.00H192.05M189.25 163.40V168.60M186.95 163.70L191.55 168.30M186.95 168.30L191.55 163.70M198.32 164.70H203.93M201.12 162.10V167.30M198.82 162.40L203.43 167.00M198.82 167.00L203.43 162.40M210.20 165.60H215.80M213.00 163.00V168.20M210.70 163.30L215.30 167.90M210.70 167.90L215.30 163.30M222.07 152.40H227.68M224.88 149.80V155.00M222.57 150.10L227.18 154.70M222.57 154.70L227.18 150.10M233.95 147.90H239.55M236.75 145.30V150.50M234.45 145.60L239.05 150.20M234.45 150.20L239.05 145.60M245.82 139.50H251.43M248.62 136.90V142.10M246.32 137.20L250.93 141.80M246.32 141.80L250.93 137.20M257.70 147.90H263.30M260.50 145.30V150.50M258.20 145.60L262.80 150.20M258.20 150.20L262.80 145.60M269.57 158.00H275.18M272.38 155.40V160.60M270.07 155.70L274.68 160.30M270.07 160.30L274.68 155.70M281.45 168.60H287.05M284.25 166.00V171.20M281.95 166.30L286.55 170.90M281.95 170.90L286.55 166.30M293.32 173.50H298.93M296.12 170.90V176.10M293.82 171.20L298.43 175.80M293.82 175.80L298.43 171.20M305.20 178.50H310.80M308.00 175.90V181.10M305.70 176.20L310.30 180.80M305.70 180.80L310.30 176.20" fill="none" stroke="#00ffff" stroke-width="1.15"/>
<path clip-path="url(#clipNO2i)" d="M23.00 178.80L34.88 184.40L46.75 184.20L58.62 187.30L70.50 207.50L82.38 208.90L94.25 196.50L106.12 184.30L118.00 184.10L129.88 189.20L141.75 191.30L153.62 192.70L165.50 187.20L177.38 187.20L189.25 186.00L201.12 178.30L213.00 181.70L224.88 187.80L236.75 177.20L248.62 168.30L260.50 170.00L272.38 160.80L284.25 159.30L296.12 168.60L308.00 174.80" fill="none" stroke="#00ff00" stroke-width="1.1"/>
<path clip-path="url(#clipNO2)" d="M20.20 178.80H25.80M23.00 176.20V181.40M20.70 176.50L25.30 181.10M20.70 181.10L25.30 176.50M32.08 184.40H37.67M34.88 181.80V187.00M32.58 182.10L37.17 186.70M32.58 186.70L37.17 182.10M43.95 184.20H49.55M46.75 181.60V186.80M44.45 181.90L49.05 186.50M44.45 186.50L49.05 181.90M55.83 187.30H61.42M58.62 184.70V189.90M56.33 185.00L60.92 189.60M56.33 189.60L60.92 185.00M67.70 207.50H73.30M70.50 204.90V210.10M68.20 205.20L72.80 209.80M68.20 209.80L72.80 205.20M79.58 208.90H85.17M82.38 206.30V211.50M80.08 206.60L84.67 211.20M80.08 211.20L84.67 206.60M91.45 196.50H97.05M94.25 193.90V199.10M91.95 194.20L96.55 198.80M91.95 198.80L96.55 194.20M103.33 184.30H108.92M106.12 181.70V186.90M103.83 182.00L108.42 186.60M103.83 186.60L108.42 182.00M115.20 184.10H120.80M118.00 181.50V186.70M115.70 181.80L120.30 186.40M115.70 186.40L120.30 181.80M127.08 189.20H132.68M129.88 186.60V191.80M127.58 186.90L132.18 191.50M127.58 191.50L132.18 186.90M138.95 191.30H144.55M141.75 188.70V193.90M139.45 189.00L144.05 193.60M139.45 193.60L144.05 189.00M150.82 192.70H156.43M153.62 190.10V195.30M151.32 190.40L155.93 195.00M151.32 195.00L155.93 190.40M162.70 187.20H168.30M165.50 184.60V189.80M163.20 184.90L167.80 189.50M163.20 189.50L167.80 184.90M174.57 187.20H180.18M177.38 184.60V189.80M175.07 184.90L179.68 189.50M175.07 189.50L179.68 184.90M186.45 186.00H192.05M189.25 183.40V188.60M186.95 183.70L191.55 188.30M186.95 188.30L191.55 183.70M198.32 178.30H203.93M201.12 175.70V180.90M198.82 176.00L203.43 180.60M198.82 180.60L203.43 176.00M210.20 181.70H215.80M213.00 179.10V184.30M210.70 179.40L215.30 184.00M210.70 184.00L215.30 179.40M222.07 187.80H227.68M224.88 185.20V190.40M222.57 185.50L227.18 190.10M222.57 190.10L227.18 185.50M233.95 177.20H239.55M236.75 174.60V179.80M234.45 174.90L239.05 179.50M234.45 179.50L239.05 174.90M245.82 168.30H251.43M248.62 165.70V170.90M246.32 166.00L250.93 170.60M246.32 170.60L250.93 166.00M257.70 170.00H263.30M260.50 167.40V172.60M258.20 167.70L262.80 172.30M258.20 172.30L262.80 167.70M269.57 160.80H275.18M272.38 158.20V163.40M270.07 158.50L274.68 163.10M270.07 163.10L274.68 158.50M281.45 159.30H287.05M284.25 156.70V161.90M281.95 157.00L286.55 161.60M281.95 161.60L286.55 157.00M293.32 168.60H298.93M296.12 166.00V171.20M293.82 166.30L298.43 170.90M293.82 170.90L298.43 166.30M305.20 174.80H310.80M308.00 172.20V177.40M305.70 172.50L310.30 177.10M305.70 177.10L310.30 172.50" fill="none" stroke="#00ff00" stroke-width="1.15"/>
<path clip-path="url(#clipNO2i)" d="M23.00 175.20L34.88 177.90L46.75 180.30L58.62 183.60L70.50 178.50L82.38 174.70L94.25 180.60L106.12 171.30L118.00 157.00L129.88 162.40L141.75 160.80L153.62 166.00L165.50 186.00L177.38 193.00L189.25 177.20L201.12 166.40L213.00 176.50L224.88 167.50L236.75 162.20L248.62 162.40L260.50 166.00L272.38 155.50L284.25 159.30L296.12 164.10L308.00 164.70" fill="none" stroke="#0000ff" stroke-width="1.1"/>
<path clip-path="url(#clipNO2)" d="M20.20 175.20H25.80M23.00 172.60V177.80M20.70 172.90L25.30 177.50M20.70 177.50L25.30 172.90M43.95 180.30H49.55M46.75 177.70V182.90M44.45 178.00L49.05 182.60M44.45 182.60L49.05 178.00M55.83 183.60H61.42M58.62 181.00V186.20M56.33 181.30L60.92 185.90M56.33 185.90L60.92 181.30M67.70 178.50H73.30M70.50 175.90V181.10M68.20 176.20L72.80 180.80M68.20 180.80L72.80 176.20M79.58 174.70H85.17M82.38 172.10V177.30M80.08 172.40L84.67 177.00M80.08 177.00L84.67 172.40M91.45 180.60H97.05M94.25 178.00V183.20M91.95 178.30L96.55 182.90M91.95 182.90L96.55 178.30M103.33 171.30H108.92M106.12 168.70V173.90M103.83 169.00L108.42 173.60M103.83 173.60L108.42 169.00M115.20 157.00H120.80M118.00 154.40V159.60M115.70 154.70L120.30 159.30M115.70 159.30L120.30 154.70M127.08 162.40H132.68M129.88 159.80V165.00M127.58 160.10L132.18 164.70M127.58 164.70L132.18 160.10M138.95 160.80H144.55M141.75 158.20V163.40M139.45 158.50L144.05 163.10M139.45 163.10L144.05 158.50M150.82 166.00H156.43M153.62 163.40V168.60M151.32 163.70L155.93 168.30M151.32 168.30L155.93 163.70M162.70 186.00H168.30M165.50 183.40V188.60M163.20 183.70L167.80 188.30M163.20 188.30L167.80 183.70M174.57 193.00H180.18M177.38 190.40V195.60M175.07 190.70L179.68 195.30M175.07 195.30L179.68 190.70M186.45 177.20H192.05M189.25 174.60V179.80M186.95 174.90L191.55 179.50M186.95 179.50L191.55 174.90M198.32 166.40H203.93M201.12 163.80V169.00M198.82 164.10L203.43 168.70M198.82 168.70L203.43 164.10M210.20 176.50H215.80M213.00 173.90V179.10M210.70 174.20L215.30 178.80M210.70 178.80L215.30 174.20M222.07 167.50H227.68M224.88 164.90V170.10M222.57 165.20L227.18 169.80M222.57 169.80L227.18 165.20M233.95 162.20H239.55M236.75 159.60V164.80M234.45 159.90L239.05 164.50M234.45 164.50L239.05 159.90M245.82 162.40H251.43M248.62 159.80V165.00M246.32 160.10L250.93 164.70M246.32 164.70L250.93 160.10M257.70 166.00H263.30M260.50 163.40V168.60M258.20 163.70L262.80 168.30M258.20 168.30L262.80 163.70M269.57 155.50H275.18M272.38 152.90V158.10M270.07 153.20L274.68 157.80M270.07 157.80L274.68 153.20M281.45 159.30H287.05M284.25 156.70V161.90M281.95 157.00L286.55 161.60M281.95 161.60L286.55 157.00M293.32 164.10H298.93M296.12 161.50V166.70M293.82 161.80L298.43 166.40M293.82 166.40L298.43 161.80M305.20 164.70H310.80M308.00 162.10V167.30M305.70 162.40L310.30 167.00M305.70 167.00L310.30 162.40" fill="none" stroke="#0000ff" stroke-width="1.15"/>
<path clip-path="url(#clipNO2i)" d="M23.00 164.20L34.88 170.00L46.75 176.30L58.62 174.80L70.50 171.50L82.38 176.40L94.25 178.70L106.12 156.80L118.00 171.70L129.88 171.60L141.75 157.40L153.62 160.40L165.50 173.10L177.38 169.90L189.25 173.10L201.12 162.70L213.00 171.50L224.88 166.00L236.75 170.00L248.62 162.20L260.50 139.50L272.38 138.10L284.25 142.90L296.12 156.80L308.00 160.40" fill="none" stroke="#ff0000" stroke-width="1.1"/>
<path clip-path="url(#clipNO2)" d="M20.20 164.20H25.80M23.00 161.60V166.80M20.70 161.90L25.30 166.50M20.70 166.50L25.30 161.90M32.08 170.00H37.67M34.88 167.40V172.60M32.58 167.70L37.17 172.30M32.58 172.30L37.17 167.70M43.95 176.30H49.55M46.75 173.70V178.90M44.45 174.00L49.05 178.60M44.45 178.60L49.05 174.00M55.83 174.80H61.42M58.62 172.20V177.40M56.33 172.50L60.92 177.10M56.33 177.10L60.92 172.50M67.70 171.50H73.30M70.50 168.90V174.10M68.20 169.20L72.80 173.80M68.20 173.80L72.80 169.20M79.58 176.40H85.17M82.38 173.80V179.00M80.08 174.10L84.67 178.70M80.08 178.70L84.67 174.10M91.45 178.70H97.05M94.25 176.10V181.30M91.95 176.40L96.55 181.00M91.95 181.00L96.55 176.40M103.33 156.80H108.92M106.12 154.20V159.40M103.83 154.50L108.42 159.10M103.83 159.10L108.42 154.50M115.20 171.70H120.80M118.00 169.10V174.30M115.70 169.40L120.30 174.00M115.70 174.00L120.30 169.40M127.08 171.60H132.68M129.88 169.00V174.20M127.58 169.30L132.18 173.90M127.58 173.90L132.18 169.30M138.95 157.40H144.55M141.75 154.80V160.00M139.45 155.10L144.05 159.70M139.45 159.70L144.05 155.10M150.82 160.40H156.43M153.62 157.80V163.00M151.32 158.10L155.93 162.70M151.32 162.70L155.93 158.10M162.70 173.10H168.30M165.50 170.50V175.70M163.20 170.80L167.80 175.40M163.20 175.40L167.80 170.80M174.57 169.90H180.18M177.38 167.30V172.50M175.07 167.60L179.68 172.20M175.07 172.20L179.68 167.60M186.45 173.10H192.05M189.25 170.50V175.70M186.95 170.80L191.55 175.40M186.95 175.40L191.55 170.80M198.32 162.70H203.93M201.12 160.10V165.30M198.82 160.40L203.43 165.00M198.82 165.00L203.43 160.40M210.20 171.50H215.80M213.00 168.90V174.10M210.70 169.20L215.30 173.80M210.70 173.80L215.30 169.20M222.07 166.00H227.68M224.88 163.40V168.60M222.57 163.70L227.18 168.30M222.57 168.30L227.18 163.70M233.95 170.00H239.55M236.75 167.40V172.60M234.45 167.70L239.05 172.30M234.45 172.30L239.05 167.70M245.82 162.20H251.43M248.62 159.60V164.80M246.32 159.90L250.93 164.50M246.32 164.50L250.93 159.90M257.70 139.50H263.30M260.50 136.90V142.10M258.20 137.20L262.80 141.80M258.20 141.80L262.80 137.20M269.57 138.10H275.18M272.38 135.50V140.70M270.07 135.80L274.68 140.40M270.07 140.40L274.68 135.80M281.45 142.90H287.05M284.25 140.30V145.50M281.95 140.60L286.55 145.20M281.95 145.20L286.55 140.60M293.32 156.80H298.93M296.12 154.20V159.40M293.82 154.50L298.43 159.10M293.82 159.10L298.43 154.50M305.20 160.40H310.80M308.00 157.80V163.00M305.70 158.10L310.30 162.70M305.70 162.70L310.30 158.10" fill="none" stroke="#ff0000" stroke-width="1.15"/>
</g>
<path d="M70.500 218V134M118.000 218V134M165.500 218V134M213.000 218V134M260.500 218V134M23 201.200H308M23 184.400H308M23 167.600H308M23 150.800H308" stroke="#000" stroke-width="1" stroke-dasharray="1 2.08" stroke-dashoffset="1"/>
<g font-family="Liberation Sans, sans-serif" font-weight="bold" font-size="8.8"><text x="18.2" y="221.00" text-anchor="end">0</text><text x="18.2" y="204.20" text-anchor="end">5</text><text x="18.2" y="187.40" text-anchor="end">10</text><text x="18.2" y="170.60" text-anchor="end">15</text><text x="18.2" y="153.80" text-anchor="end">20</text><text x="18.2" y="137.00" text-anchor="end">25</text><text x="23.00" y="229.20" text-anchor="middle">0</text><text x="70.50" y="229.20" text-anchor="middle">4</text><text x="118.00" y="229.20" text-anchor="middle">8</text><text x="165.50" y="229.20" text-anchor="middle">12</text><text x="213.00" y="229.20" text-anchor="middle">16</text><text x="260.50" y="229.20" text-anchor="middle">20</text><text x="308.00" y="229.20" text-anchor="middle">24</text></g>
<g font-family="Liberation Serif, serif" font-weight="bold" font-size="9"><text x="266.00" y="130.70" textLength="17.00" lengthAdjust="spacingAndGlyphs">NO2</text><text x="286.50" y="130.70" textLength="22.70" lengthAdjust="spacingAndGlyphs">(ppb)</text></g>
<path d="M371.750 134v3.5M371.750 218v-3.5M395.500 134v6M395.500 218v-6M419.250 134v3.5M419.250 218v-3.5M443.000 134v6M443.000 218v-6M466.750 134v3.5M466.750 218v-3.5M490.500 134v6M490.500 218v-6M514.250 134v3.5M514.250 218v-3.5M538.000 134v6M538.000 218v-6M561.750 134v3.5M561.750 218v-3.5M585.500 134v6M585.500 218v-6M609.250 134v3.5M609.250 218v-3.5M348 212.750h3.5M633 212.750h-3.5M348 207.500h6M633 207.500h-6M348 202.250h3.5M633 202.250h-3.5M348 197.000h6M633 197.000h-6M348 191.750h3.5M633 191.750h-3.5M348 186.500h6M633 186.500h-6M348 181.250h3.5M633 181.250h-3.5M348 176.000h6M633 176.000h-6M348 170.750h3.5M633 170.750h-3.5M348 165.500h6M633 165.500h-6M348 160.250h3.5M633 160.250h-3.5M348 155.000h6M633 155.000h-6M348 149.750h3.5M633 149.750h-3.5M348 144.500h6M633 144.500h-6M348 139.250h3.5M633 139.250h-3.5" stroke="#000" stroke-width="1"/>
<rect x="348" y="134" width="285" height="84" fill="none" stroke="#000" stroke-width="2"/>
<clipPath id="clipRSP"><rect x="348" y="134" width="285" height="84"/></clipPath>
<clipPath id="clipRSPi"><rect x="349" y="135" width="283" height="82"/></clipPath>
<g>
<path clip-path="url(#clipRSPi)" d="M348.00 186.20L359.88 183.50L371.75 180.70L383.62 191.80L395.50 191.80L407.38 191.80L419.25 186.00L431.12 195.80L443.00 181.00L454.88 176.00L466.75 174.60L478.62 173.20L490.50 171.80L502.38 170.60L514.25 170.40L526.12 160.00L538.00 160.20L549.88 155.50L561.75 155.50L573.62 165.80L585.50 165.80L597.38 165.80L609.25 180.00L621.12 186.60L633.00 168.00" fill="none" stroke="#00ffff" stroke-width="1.1"/>
<path clip-path="url(#clipRSP)" d="M345.20 186.20H350.80M348.00 183.60V188.80M345.70 183.90L350.30 188.50M345.70 188.50L350.30 183.90M357.07 183.50H362.68M359.88 180.90V186.10M357.57 181.20L362.18 185.80M357.57 185.80L362.18 181.20M368.95 180.70H374.55M371.75 178.10V183.30M369.45 178.40L374.05 183.00M369.45 183.00L374.05 178.40M380.82 191.80H386.43M383.62 189.20V194.40M381.32 189.50L385.93 194.10M381.32 194.10L385.93 189.50M392.70 191.80H398.30M395.50 189.20V194.40M393.20 189.50L397.80 194.10M393.20 194.10L397.80 189.50M404.57 191.80H410.18M407.38 189.20V194.40M405.07 189.50L409.68 194.10M405.07 194.10L409.68 189.50M416.45 186.00H422.05M419.25 183.40V188.60M416.95 183.70L421.55 188.30M416.95 188.30L421.55 183.70M428.32 195.80H433.93M431.12 193.20V198.40M428.82 193.50L433.43 198.10M428.82 198.10L433.43 193.50M440.20 181.00H445.80M443.00 178.40V183.60M440.70 178.70L445.30 183.30M440.70 183.30L445.30 178.70M452.07 176.00H457.68M454.88 173.40V178.60M452.57 173.70L457.18 178.30M452.57 178.30L457.18 173.70M499.57 170.60H505.18M502.38 168.00V173.20M500.07 168.30L504.68 172.90M500.07 172.90L504.68 168.30M511.45 170.40H517.05M514.25 167.80V173.00M511.95 168.10L516.55 172.70M511.95 172.70L516.55 168.10M523.33 160.00H528.92M526.12 157.40V162.60M523.83 157.70L528.42 162.30M523.83 162.30L528.42 157.70M535.20 160.20H540.80M538.00 157.60V162.80M535.70 157.90L540.30 162.50M535.70 162.50L540.30 157.90M547.08 155.50H552.67M549.88 152.90V158.10M547.58 153.20L552.17 157.80M547.58 157.80L552.17 153.20M558.95 155.50H564.55M561.75 152.90V158.10M559.45 153.20L564.05 157.80M559.45 157.80L564.05 153.20M570.83 165.80H576.42M573.62 163.20V168.40M571.33 163.50L575.92 168.10M571.33 168.10L575.92 163.50M582.70 165.80H588.30M585.50 163.20V168.40M583.20 163.50L587.80 168.10M583.20 168.10L587.80 163.50M594.58 165.80H600.17M597.38 163.20V168.40M595.08 163.50L599.67 168.10M595.08 168.10L599.67 163.50M606.45 180.00H612.05M609.25 177.40V182.60M606.95 177.70L611.55 182.30M606.95 182.30L611.55 177.70M618.33 186.60H623.92M621.12 184.00V189.20M618.83 184.30L623.42 188.90M618.83 188.90L623.42 184.30M630.20 168.00H635.80M633.00 165.40V170.60M630.70 165.70L635.30 170.30M630.70 170.30L635.30 165.70" fill="none" stroke="#00ffff" stroke-width="1.15"/>
<path clip-path="url(#clipRSPi)" d="M348.00 165.50L359.88 180.70L371.75 185.50L383.62 191.30L395.50 202.00L407.38 202.00L419.25 196.60L431.12 186.00L443.00 186.20L454.88 197.00L466.75 191.80L478.62 181.40L490.50 181.40L502.38 186.40L514.25 181.40L526.12 176.10L538.00 181.40L549.88 181.40L561.75 181.40L573.62 181.40L585.50 176.10L597.38 186.40L609.25 181.40L621.12 176.10L633.00 166.00" fill="none" stroke="#00ff00" stroke-width="1.1"/>
<path clip-path="url(#clipRSP)" d="M345.20 165.50H350.80M348.00 162.90V168.10M345.70 163.20L350.30 167.80M345.70 167.80L350.30 163.20M357.07 180.70H362.68M359.88 178.10V183.30M357.57 178.40L362.18 183.00M357.57 183.00L362.18 178.40M368.95 185.50H374.55M371.75 182.90V188.10M369.45 183.20L374.05 187.80M369.45 187.80L374.05 183.20M380.82 191.30H386.43M383.62 188.70V193.90M381.32 189.00L385.93 193.60M381.32 193.60L385.93 189.00M392.70 202.00H398.30M395.50 199.40V204.60M393.20 199.70L397.80 204.30M393.20 204.30L397.80 199.70M404.57 202.00H410.18M407.38 199.40V204.60M405.07 199.70L409.68 204.30M405.07 204.30L409.68 199.70M416.45 196.60H422.05M419.25 194.00V199.20M416.95 194.30L421.55 198.90M416.95 198.90L421.55 194.30M428.32 186.00H433.93M431.12 183.40V188.60M428.82 183.70L433.43 188.30M428.82 188.30L433.43 183.70M440.20 186.20H445.80M443.00 183.60V188.80M440.70 183.90L445.30 188.50M440.70 188.50L445.30 183.90M452.07 197.00H457.68M454.88 194.40V199.60M452.57 194.70L457.18 199.30M452.57 199.30L457.18 194.70M463.95 191.80H469.55M466.75 189.20V194.40M464.45 189.50L469.05 194.10M464.45 194.10L469.05 189.50M475.82 181.40H481.43M478.62 178.80V184.00M476.32 179.10L480.93 183.70M476.32 183.70L480.93 179.10M487.70 181.40H493.30M490.50 178.80V184.00M488.20 179.10L492.80 183.70M488.20 183.70L492.80 179.10M499.57 186.40H505.18M502.38 183.80V189.00M500.07 184.10L504.68 188.70M500.07 188.70L504.68 184.10M511.45 181.40H517.05M514.25 178.80V184.00M511.95 179.10L516.55 183.70M511.95 183.70L516.55 179.10M523.33 176.10H528.92M526.12 173.50V178.70M523.83 173.80L528.42 178.40M523.83 178.40L528.42 173.80M535.20 181.40H540.80M538.00 178.80V184.00M535.70 179.10L540.30 183.70M535.70 183.70L540.30 179.10M547.08 181.40H552.67M549.88 178.80V184.00M547.58 179.10L552.17 183.70M547.58 183.70L552.17 179.10M558.95 181.40H564.55M561.75 178.80V184.00M559.45 179.10L564.05 183.70M559.45 183.70L564.05 179.10M570.83 181.40H576.42M573.62 178.80V184.00M571.33 179.10L575.92 183.70M571.33 183.70L575.92 179.10M582.70 176.10H588.30M585.50 173.50V178.70M583.20 173.80L587.80 178.40M583.20 178.40L587.80 173.80M594.58 186.40H600.17M597.38 183.80V189.00M595.08 184.10L599.67 188.70M595.08 188.70L599.67 184.10M606.45 181.40H612.05M609.25 178.80V184.00M606.95 179.10L611.55 183.70M606.95 183.70L611.55 179.10M618.33 176.10H623.92M621.12 173.50V178.70M618.83 173.80L623.42 178.40M618.83 178.40L623.42 173.80M630.20 166.00H635.80M633.00 163.40V168.60M630.70 163.70L635.30 168.30M630.70 168.30L635.30 163.70" fill="none" stroke="#00ff00" stroke-width="1.15"/>
<path clip-path="url(#clipRSPi)" d="M348.00 165.50L359.88 176.00L371.75 176.00L383.62 212.20L395.50 165.60L407.38 176.00L419.25 191.90L431.12 197.00L443.00 191.70L454.88 191.80L466.75 170.50L478.62 149.90L490.50 149.90L502.38 181.40L514.25 160.40L526.12 151.60L538.00 142.80L549.88 134.00L561.75 176.00L573.62 186.40L585.50 186.40L597.38 191.30L609.25 176.00L621.12 181.40L633.00 176.00" fill="none" stroke="#0000ff" stroke-width="1.1"/>
<path clip-path="url(#clipRSP)" d="M345.20 165.50H350.80M348.00 162.90V168.10M345.70 163.20L350.30 167.80M345.70 167.80L350.30 163.20M357.07 176.00H362.68M359.88 173.40V178.60M357.57 173.70L362.18 178.30M357.57 178.30L362.18 173.70M368.95 176.00H374.55M371.75 173.40V178.60M369.45 173.70L374.05 178.30M369.45 178.30L374.05 173.70M380.82 212.20H386.43M383.62 209.60V214.80M381.32 209.90L385.93 214.50M381.32 214.50L385.93 209.90M392.70 165.60H398.30M395.50 163.00V168.20M393.20 163.30L397.80 167.90M393.20 167.90L397.80 163.30M404.57 176.00H410.18M407.38 173.40V178.60M405.07 173.70L409.68 178.30M405.07 178.30L409.68 173.70M416.45 191.90H422.05M419.25 189.30V194.50M416.95 189.60L421.55 194.20M416.95 194.20L421.55 189.60M428.32 197.00H433.93M431.12 194.40V199.60M428.82 194.70L433.43 199.30M428.82 199.30L433.43 194.70M440.20 191.70H445.80M443.00 189.10V194.30M440.70 189.40L445.30 194.00M440.70 194.00L445.30 189.40M452.07 191.80H457.68M454.88 189.20V194.40M452.57 189.50L457.18 194.10M452.57 194.10L457.18 189.50M463.95 170.50H469.55M466.75 167.90V173.10M464.45 168.20L469.05 172.80M464.45 172.80L469.05 168.20M475.82 149.90H481.43M478.62 147.30V152.50M476.32 147.60L480.93 152.20M476.32 152.20L480.93 147.60M487.70 149.90H493.30M490.50 147.30V152.50M488.20 147.60L492.80 152.20M488.20 152.20L492.80 147.60M499.57 181.40H505.18M502.38 178.80V184.00M500.07 179.10L504.68 183.70M500.07 183.70L504.68 179.10M511.45 160.40H517.05M514.25 157.80V163.00M511.95 158.10L516.55 162.70M511.95 162.70L516.55 158.10M547.08 134.00H552.67M549.88 131.40V136.60M547.58 131.70L552.17 136.30M547.58 136.30L552.17 131.70M558.95 176.00H564.55M561.75 173.40V178.60M559.45 173.70L564.05 178.30M559.45 178.30L564.05 173.70M570.83 186.40H576.42M573.62 183.80V189.00M571.33 184.10L575.92 188.70M571.33 188.70L575.92 184.10M582.70 186.40H588.30M585.50 183.80V189.00M583.20 184.10L587.80 188.70M583.20 188.70L587.80 184.10M594.58 191.30H600.17M597.38 188.70V193.90M595.08 189.00L599.67 193.60M595.08 193.60L599.67 189.00M606.45 176.00H612.05M609.25 173.40V178.60M606.95 173.70L611.55 178.30M606.95 178.30L611.55 173.70M618.33 181.40H623.92M621.12 178.80V184.00M618.83 179.10L623.42 183.70M618.83 183.70L623.42 179.10M630.20 176.00H635.80M633.00 173.40V178.60M630.70 173.70L635.30 178.30M630.70 178.30L635.30 173.70" fill="none" stroke="#0000ff" stroke-width="1.15"/>
<path clip-path="url(#clipRSPi)" d="M348.00 176.00L359.88 186.20L371.75 186.20L383.62 196.50L395.50 202.00L407.38 212.20L419.25 207.30L431.12 186.00L443.00 186.20L454.88 191.80L466.75 191.80L478.62 176.10L490.50 176.10L502.38 197.10L514.25 191.80L526.12 181.40L538.00 160.40L549.88 155.50L561.75 191.80L573.62 212.20L585.50 191.80L597.38 191.30L609.25 197.10L621.12 197.10L633.00 207.50" fill="none" stroke="#ff0000" stroke-width="1.1"/>
<path clip-path="url(#clipRSP)" d="M345.20 176.00H350.80M348.00 173.40V178.60M345.70 173.70L350.30 178.30M345.70 178.30L350.30 173.70M357.07 186.20H362.68M359.88 183.60V188.80M357.57 183.90L362.18 188.50M357.57 188.50L362.18 183.90M368.95 186.20H374.55M371.75 183.60V188.80M369.45 183.90L374.05 188.50M369.45 188.50L374.05 183.90M380.82 196.50H386.43M383.62 193.90V199.10M381.32 194.20L385.93 198.80M381.32 198.80L385.93 194.20M392.70 202.00H398.30M395.50 199.40V204.60M393.20 199.70L397.80 204.30M393.20 204.30L397.80 199.70M404.57 212.20H410.18M407.38 209.60V214.80M405.07 209.90L409.68 214.50M405.07 214.50L409.68 209.90M416.45 207.30H422.05M419.25 204.70V209.90M416.95 205.00L421.55 209.60M416.95 209.60L421.55 205.00M428.32 186.00H433.93M431.12 183.40V188.60M428.82 183.70L433.43 188.30M428.82 188.30L433.43 183.70M440.20 186.20H445.80M443.00 183.60V188.80M440.70 183.90L445.30 188.50M440.70 188.50L445.30 183.90M452.07 191.80H457.68M454.88 189.20V194.40M452.57 189.50L457.18 194.10M452.57 194.10L457.18 189.50M463.95 191.80H469.55M466.75 189.20V194.40M464.45 189.50L469.05 194.10M464.45 194.10L469.05 189.50M475.82 176.10H481.43M478.62 173.50V178.70M476.32 173.80L480.93 178.40M476.32 178.40L480.93 173.80M487.70 176.10H493.30M490.50 173.50V178.70M488.20 173.80L492.80 178.40M488.20 178.40L492.80 173.80M499.57 197.10H505.18M502.38 194.50V199.70M500.07 194.80L504.68 199.40M500.07 199.40L504.68 194.80M511.45 191.80H517.05M514.25 189.20V194.40M511.95 189.50L516.55 194.10M511.95 194.10L516.55 189.50M523.33 181.40H528.92M526.12 178.80V184.00M523.83 179.10L528.42 183.70M523.83 183.70L528.42 179.10M535.20 160.40H540.80M538.00 157.80V163.00M535.70 158.10L540.30 162.70M535.70 162.70L540.30 158.10M547.08 155.50H552.67M549.88 152.90V158.10M547.58 153.20L552.17 157.80M547.58 157.80L552.17 153.20M558.95 191.80H564.55M561.75 189.20V194.40M559.45 189.50L564.05 194.10M559.45 194.10L564.05 189.50M570.83 212.20H576.42M573.62 209.60V214.80M571.33 209.90L575.92 214.50M571.33 214.50L575.92 209.90M582.70 191.80H588.30M585.50 189.20V194.40M583.20 189.50L587.80 194.10M583.20 194.10L587.80 189.50M594.58 191.30H600.17M597.38 188.70V193.90M595.08 189.00L599.67 193.60M595.08 193.60L599.67 189.00M606.45 197.10H612.05M609.25 194.50V199.70M606.95 194.80L611.55 199.40M606.95 199.40L611.55 194.80M618.33 197.10H623.92M621.12 194.50V199.70M618.83 194.80L623.42 199.40M618.83 199.40L623.42 194.80M630.20 207.50H635.80M633.00 204.90V210.10M630.70 205.20L635.30 209.80M630.70 209.80L635.30 205.20" fill="none" stroke="#ff0000" stroke-width="1.15"/>
</g>
<path d="M395.500 218V134M443.000 218V134M490.500 218V134M538.000 218V134M585.500 218V134M348 207.500H633M348 197.000H633M348 186.500H633M348 176.000H633M348 165.500H633M348 155.000H633M348 144.500H633" stroke="#000" stroke-width="1" stroke-dasharray="1 2.08" stroke-dashoffset="1"/>
<g font-family="Liberation Sans, sans-serif" font-weight="bold" font-size="8.8"><text x="343.2" y="221.00" text-anchor="end">4</text><text x="343.2" y="210.50" text-anchor="end">6</text><text x="343.2" y="200.00" text-anchor="end">8</text><text x="343.2" y="189.50" text-anchor="end">10</text><text x="343.2" y="179.00" text-anchor="end">12</text><text x="343.2" y="168.50" text-anchor="end">14</text><text x="343.2" y="158.00" text-anchor="end">16</text><text x="343.2" y="147.50" text-anchor="end">18</text><text x="343.2" y="137.00" text-anchor="end">20</text><text x="348.00" y="229.20" text-anchor="middle">0</text><text x="395.50" y="229.20" text-anchor="middle">4</text><text x="443.00" y="229.20" text-anchor="middle">8</text><text x="490.50" y="229.20" text-anchor="middle">12</text><text x="538.00" y="229.20" text-anchor="middle">16</text><text x="585.50" y="229.20" text-anchor="middle">20</text><text x="633.00" y="229.20" text-anchor="middle">24</text></g>
<g font-family="Liberation Serif, serif" font-weight="bold" font-size="9"><text x="576.50" y="130.70" textLength="16.60" lengthAdjust="spacingAndGlyphs">RSP</text><text x="596.60" y="130.70" textLength="37.90" lengthAdjust="spacingAndGlyphs">(ug/m3)</text></g>
<path d="M696.750 134v3.5M696.750 218v-3.5M720.500 134v6M720.500 218v-6M744.250 134v3.5M744.250 218v-3.5M768.000 134v6M768.000 218v-6M791.750 134v3.5M791.750 218v-3.5M815.500 134v6M815.500 218v-6M839.250 134v3.5M839.250 218v-3.5M863.000 134v6M863.000 218v-6M886.750 134v3.5M886.750 218v-3.5M910.500 134v6M910.500 218v-6M934.250 134v3.5M934.250 218v-3.5M673 209.600h3.5M958 209.600h-3.5M673 201.200h6M958 201.200h-6M673 192.800h3.5M958 192.800h-3.5M673 184.400h6M958 184.400h-6M673 176.000h3.5M958 176.000h-3.5M673 167.600h6M958 167.600h-6M673 159.200h3.5M958 159.200h-3.5M673 150.800h6M958 150.800h-6M673 142.400h3.5M958 142.400h-3.5" stroke="#000" stroke-width="1"/>
<rect x="673" y="134" width="285" height="84" fill="none" stroke="#000" stroke-width="2"/>
<clipPath id="clipFSP"><rect x="673" y="134" width="285" height="84"/></clipPath>
<clipPath id="clipFSPi"><rect x="674" y="135" width="283" height="82"/></clipPath>
<g>
<path clip-path="url(#clipFSPi)" d="M673.00 184.40L684.88 184.40L696.75 184.40L708.62 192.80L720.50 184.40L732.38 192.80L744.25 184.40L756.12 192.80L768.00 167.60L779.88 167.60L791.75 169.70L803.62 171.80L815.50 173.90L827.38 176.00L839.25 176.00L851.12 167.60L863.00 159.20L874.88 159.20L886.75 150.80L898.62 159.20L910.50 167.60L922.38 150.80L934.25 184.40L946.12 184.40L958.00 159.20" fill="none" stroke="#00ffff" stroke-width="1.1"/>
<path clip-path="url(#clipFSP)" d="M670.20 184.40H675.80M673.00 181.80V187.00M670.70 182.10L675.30 186.70M670.70 186.70L675.30 182.10M682.08 184.40H687.67M684.88 181.80V187.00M682.58 182.10L687.17 186.70M682.58 186.70L687.17 182.10M693.95 184.40H699.55M696.75 181.80V187.00M694.45 182.10L699.05 186.70M694.45 186.70L699.05 182.10M705.83 192.80H711.42M708.62 190.20V195.40M706.33 190.50L710.92 195.10M706.33 195.10L710.92 190.50M717.70 184.40H723.30M720.50 181.80V187.00M718.20 182.10L722.80 186.70M718.20 186.70L722.80 182.10M729.58 192.80H735.17M732.38 190.20V195.40M730.08 190.50L734.67 195.10M730.08 195.10L734.67 190.50M741.45 184.40H747.05M744.25 181.80V187.00M741.95 182.10L746.55 186.70M741.95 186.70L746.55 182.10M753.33 192.80H758.92M756.12 190.20V195.40M753.83 190.50L758.42 195.10M753.83 195.10L758.42 190.50M765.20 167.60H770.80M768.00 165.00V170.20M765.70 165.30L770.30 169.90M765.70 169.90L770.30 165.30M777.08 167.60H782.67M779.88 165.00V170.20M777.58 165.30L782.17 169.90M777.58 169.90L782.17 165.30M824.58 176.00H830.17M827.38 173.40V178.60M825.08 173.70L829.67 178.30M825.08 178.30L829.67 173.70M836.45 176.00H842.05M839.25 173.40V178.60M836.95 173.70L841.55 178.30M836.95 178.30L841.55 173.70M848.33 167.60H853.92M851.12 165.00V170.20M848.83 165.30L853.42 169.90M848.83 169.90L853.42 165.30M860.20 159.20H865.80M863.00 156.60V161.80M860.70 156.90L865.30 161.50M860.70 161.50L865.30 156.90M872.08 159.20H877.67M874.88 156.60V161.80M872.58 156.90L877.17 161.50M872.58 161.50L877.17 156.90M883.95 150.80H889.55M886.75 148.20V153.40M884.45 148.50L889.05 153.10M884.45 153.10L889.05 148.50M895.83 159.20H901.42M898.62 156.60V161.80M896.33 156.90L900.92 161.50M896.33 161.50L900.92 156.90M907.70 167.60H913.30M910.50 165.00V170.20M908.20 165.30L912.80 169.90M908.20 169.90L912.80 165.30M919.58 150.80H925.17M922.38 148.20V153.40M920.08 148.50L924.67 153.10M920.08 153.10L924.67 148.50M931.45 184.40H937.05M934.25 181.80V187.00M931.95 182.10L936.55 186.70M931.95 186.70L936.55 182.10M943.33 184.40H948.92M946.12 181.80V187.00M943.83 182.10L948.42 186.70M943.83 186.70L948.42 182.10M955.20 159.20H960.80M958.00 156.60V161.80M955.70 156.90L960.30 161.50M955.70 161.50L960.30 156.90" fill="none" stroke="#00ffff" stroke-width="1.15"/>
<path clip-path="url(#clipFSPi)" d="M673.00 159.20L684.88 167.60L696.75 184.40L708.62 184.40L720.50 192.80L732.38 184.40L744.25 192.80L756.12 176.00L768.00 184.40L779.88 192.80L791.75 184.40L803.62 176.00L815.50 176.00L827.38 192.80L839.25 176.00L851.12 167.60L863.00 176.00L874.88 176.00L886.75 184.40L898.62 184.40L910.50 167.60L922.38 184.40L934.25 184.40L946.12 176.00L958.00 150.80" fill="none" stroke="#00ff00" stroke-width="1.1"/>
<path clip-path="url(#clipFSP)" d="M670.20 159.20H675.80M673.00 156.60V161.80M670.70 156.90L675.30 161.50M670.70 161.50L675.30 156.90M682.08 167.60H687.67M684.88 165.00V170.20M682.58 165.30L687.17 169.90M682.58 169.90L687.17 165.30M693.95 184.40H699.55M696.75 181.80V187.00M694.45 182.10L699.05 186.70M694.45 186.70L699.05 182.10M705.83 184.40H711.42M708.62 181.80V187.00M706.33 182.10L710.92 186.70M706.33 186.70L710.92 182.10M717.70 192.80H723.30M720.50 190.20V195.40M718.20 190.50L722.80 195.10M718.20 195.10L722.80 190.50M729.58 184.40H735.17M732.38 181.80V187.00M730.08 182.10L734.67 186.70M730.08 186.70L734.67 182.10M741.45 192.80H747.05M744.25 190.20V195.40M741.95 190.50L746.55 195.10M741.95 195.10L746.55 190.50M753.33 176.00H758.92M756.12 173.40V178.60M753.83 173.70L758.42 178.30M753.83 178.30L758.42 173.70M765.20 184.40H770.80M768.00 181.80V187.00M765.70 182.10L770.30 186.70M765.70 186.70L770.30 182.10M777.08 192.80H782.67M779.88 190.20V195.40M777.58 190.50L782.17 195.10M777.58 195.10L782.17 190.50M788.95 184.40H794.55M791.75 181.80V187.00M789.45 182.10L794.05 186.70M789.45 186.70L794.05 182.10M800.83 176.00H806.42M803.62 173.40V178.60M801.33 173.70L805.92 178.30M801.33 178.30L805.92 173.70M812.70 176.00H818.30M815.50 173.40V178.60M813.20 173.70L817.80 178.30M813.20 178.30L817.80 173.70M824.58 192.80H830.17M827.38 190.20V195.40M825.08 190.50L829.67 195.10M825.08 195.10L829.67 190.50M836.45 176.00H842.05M839.25 173.40V178.60M836.95 173.70L841.55 178.30M836.95 178.30L841.55 173.70M848.33 167.60H853.92M851.12 165.00V170.20M848.83 165.30L853.42 169.90M848.83 169.90L853.42 165.30M860.20 176.00H865.80M863.00 173.40V178.60M860.70 173.70L865.30 178.30M860.70 178.30L865.30 173.70M872.08 176.00H877.67M874.88 173.40V178.60M872.58 173.70L877.17 178.30M872.58 178.30L877.17 173.70M883.95 184.40H889.55M886.75 181.80V187.00M884.45 182.10L889.05 186.70M884.45 186.70L889.05 182.10M895.83 184.40H901.42M898.62 181.80V187.00M896.33 182.10L900.92 186.70M896.33 186.70L900.92 182.10M907.70 167.60H913.30M910.50 165.00V170.20M908.20 165.30L912.80 169.90M908.20 169.90L912.80 165.30M919.58 184.40H925.17M922.38 181.80V187.00M920.08 182.10L924.67 186.70M920.08 186.70L924.67 182.10M931.45 184.40H937.05M934.25 181.80V187.00M931.95 182.10L936.55 186.70M931.95 186.70L936.55 182.10M943.33 176.00H948.92M946.12 173.40V178.60M943.83 173.70L948.42 178.30M943.83 178.30L948.42 173.70M955.20 150.80H960.80M958.00 148.20V153.40M955.70 148.50L960.30 153.10M955.70 153.10L960.30 148.50" fill="none" stroke="#00ff00" stroke-width="1.15"/>
<path clip-path="url(#clipFSPi)" d="M673.00 150.80L684.88 167.60L696.75 176.00L708.62 209.60L720.50 142.40L732.38 167.60L744.25 167.60L756.12 176.00L768.00 167.60L779.88 184.40L791.75 167.60L803.62 159.20L815.50 159.20L827.38 176.00L839.25 150.80L851.12 150.80L863.00 150.80L874.88 150.80L886.75 176.00L898.62 184.40L910.50 192.80L922.38 192.80L934.25 167.60L946.12 159.20L958.00 150.80" fill="none" stroke="#0000ff" stroke-width="1.1"/>
<path clip-path="url(#clipFSP)" d="M670.20 150.80H675.80M673.00 148.20V153.40M670.70 148.50L675.30 153.10M670.70 153.10L675.30 148.50M682.08 167.60H687.67M684.88 165.00V170.20M682.58 165.30L687.17 169.90M682.58 169.90L687.17 165.30M693.95 176.00H699.55M696.75 173.40V178.60M694.45 173.70L699.05 178.30M694.45 178.30L699.05 173.70M705.83 209.60H711.42M708.62 207.00V212.20M706.33 207.30L710.92 211.90M706.33 211.90L710.92 207.30M717.70 142.40H723.30M720.50 139.80V145.00M718.20 140.10L722.80 144.70M718.20 144.70L722.80 140.10M729.58 167.60H735.17M732.38 165.00V170.20M730.08 165.30L734.67 169.90M730.08 169.90L734.67 165.30M741.45 167.60H747.05M744.25 165.00V170.20M741.95 165.30L746.55 169.90M741.95 169.90L746.55 165.30M753.33 176.00H758.92M756.12 173.40V178.60M753.83 173.70L758.42 178.30M753.83 178.30L758.42 173.70M765.20 167.60H770.80M768.00 165.00V170.20M765.70 165.30L770.30 169.90M765.70 169.90L770.30 165.30M777.08 184.40H782.67M779.88 181.80V187.00M777.58 182.10L782.17 186.70M777.58 186.70L782.17 182.10M788.95 167.60H794.55M791.75 165.00V170.20M789.45 165.30L794.05 169.90M789.45 169.90L794.05 165.30M800.83 159.20H806.42M803.62 156.60V161.80M801.33 156.90L805.92 161.50M801.33 161.50L805.92 156.90M812.70 159.20H818.30M815.50 156.60V161.80M813.20 156.90L817.80 161.50M813.20 161.50L817.80 156.90M824.58 176.00H830.17M827.38 173.40V178.60M825.08 173.70L829.67 178.30M825.08 178.30L829.67 173.70M836.45 150.80H842.05M839.25 148.20V153.40M836.95 148.50L841.55 153.10M836.95 153.10L841.55 148.50M872.08 150.80H877.67M874.88 148.20V153.40M872.58 148.50L877.17 153.10M872.58 153.10L877.17 148.50M883.95 176.00H889.55M886.75 173.40V178.60M884.45 173.70L889.05 178.30M884.45 178.30L889.05 173.70M895.83 184.40H901.42M898.62 181.80V187.00M896.33 182.10L900.92 186.70M896.33 186.70L900.92 182.10M907.70 192.80H913.30M910.50 190.20V195.40M908.20 190.50L912.80 195.10M908.20 195.10L912.80 190.50M919.58 192.80H925.17M922.38 190.20V195.40M920.08 190.50L924.67 195.10M920.08 195.10L924.67 190.50M931.45 167.60H937.05M934.25 165.00V170.20M931.95 165.30L936.55 169.90M931.95 169.90L936.55 165.30M943.33 159.20H948.92M946.12 156.60V161.80M943.83 156.90L948.42 161.50M943.83 161.50L948.42 156.90M955.20 150.80H960.80M958.00 148.20V153.40M955.70 148.50L960.30 153.10M955.70 153.10L960.30 148.50" fill="none" stroke="#0000ff" stroke-width="1.15"/>
<path clip-path="url(#clipFSPi)" d="M673.00 150.80L684.88 184.40L696.75 184.40L708.62 184.40L720.50 184.40L732.38 201.20L744.25 192.80L756.12 167.60L768.00 167.60L779.88 184.40L791.75 176.00L803.62 159.20L815.50 159.20L827.38 192.80L839.25 184.40L851.12 176.00L863.00 167.60L874.88 142.40L886.75 167.60L898.62 201.20L910.50 167.60L922.38 167.60L934.25 176.00L946.12 167.60L958.00 184.40" fill="none" stroke="#ff0000" stroke-width="1.1"/>
<path clip-path="url(#clipFSP)" d="M670.20 150.80H675.80M673.00 148.20V153.40M670.70 148.50L675.30 153.10M670.70 153.10L675.30 148.50M682.08 184.40H687.67M684.88 181.80V187.00M682.58 182.10L687.17 186.70M682.58 186.70L687.17 182.10M693.95 184.40H699.55M696.75 181.80V187.00M694.45 182.10L699.05 186.70M694.45 186.70L699.05 182.10M705.83 184.40H711.42M708.62 181.80V187.00M706.33 182.10L710.92 186.70M706.33 186.70L710.92 182.10M717.70 184.40H723.30M720.50 181.80V187.00M718.20 182.10L722.80 186.70M718.20 186.70L722.80 182.10M729.58 201.20H735.17M732.38 198.60V203.80M730.08 198.90L734.67 203.50M730.08 203.50L734.67 198.90M741.45 192.80H747.05M744.25 190.20V195.40M741.95 190.50L746.55 195.10M741.95 195.10L746.55 190.50M753.33 167.60H758.92M756.12 165.00V170.20M753.83 165.30L758.42 169.90M753.83 169.90L758.42 165.30M765.20 167.60H770.80M768.00 165.00V170.20M765.70 165.30L770.30 169.90M765.70 169.90L770.30 165.30M777.08 184.40H782.67M779.88 181.80V187.00M777.58 182.10L782.17 186.70M777.58 186.70L782.17 182.10M788.95 176.00H794.55M791.75 173.40V178.60M789.45 173.70L794.05 178.30M789.45 178.30L794.05 173.70M800.83 159.20H806.42M803.62 156.60V161.80M801.33 156.90L805.92 161.50M801.33 161.50L805.92 156.90M812.70 159.20H818.30M815.50 156.60V161.80M813.20 156.90L817.80 161.50M813.20 161.50L817.80 156.90M824.58 192.80H830.17M827.38 190.20V195.40M825.08 190.50L829.67 195.10M825.08 195.10L829.67 190.50M836.45 184.40H842.05M839.25 181.80V187.00M836.95 182.10L841.55 186.70M836.95 186.70L841.55 182.10M848.33 176.00H853.92M851.12 173.40V178.60M848.83 173.70L853.42 178.30M848.83 178.30L853.42 173.70M860.20 167.60H865.80M863.00 165.00V170.20M860.70 165.30L865.30 169.90M860.70 169.90L865.30 165.30M872.08 142.40H877.67M874.88 139.80V145.00M872.58 140.10L877.17 144.70M872.58 144.70L877.17 140.10M883.95 167.60H889.55M886.75 165.00V170.20M884.45 165.30L889.05 169.90M884.45 169.90L889.05 165.30M895.83 201.20H901.42M898.62 198.60V203.80M896.33 198.90L900.92 203.50M896.33 203.50L900.92 198.90M907.70 167.60H913.30M910.50 165.00V170.20M908.20 165.30L912.80 169.90M908.20 169.90L912.80 165.30M919.58 167.60H925.17M922.38 165.00V170.20M920.08 165.30L924.67 169.90M920.08 169.90L924.67 165.30M931.45 176.00H937.05M934.25 173.40V178.60M931.95 173.70L936.55 178.30M931.95 178.30L936.55 173.70M943.33 167.60H948.92M946.12 165.00V170.20M943.83 165.30L948.42 169.90M943.83 169.90L948.42 165.30M955.20 184.40H960.80M958.00 181.80V187.00M955.70 182.10L960.30 186.70M955.70 186.70L960.30 182.10" fill="none" stroke="#ff0000" stroke-width="1.15"/>
</g>
<path d="M720.500 218V134M768.000 218V134M815.500 218V134M863.000 218V134M910.500 218V134M673 201.200H958M673 184.400H958M673 167.600H958M673 150.800H958" stroke="#000" stroke-width="1" stroke-dasharray="1 2.08" stroke-dashoffset="1"/>
<g font-family="Liberation Sans, sans-serif" font-weight="bold" font-size="8.8"><text x="668.2" y="221.00" text-anchor="end">0</text><text x="668.2" y="204.20" text-anchor="end">2</text><text x="668.2" y="187.40" text-anchor="end">4</text><text x="668.2" y="170.60" text-anchor="end">6</text><text x="668.2" y="153.80" text-anchor="end">8</text><text x="668.2" y="137.00" text-anchor="end">10</text><text x="673.00" y="229.20" text-anchor="middle">0</text><text x="720.50" y="229.20" text-anchor="middle">4</text><text x="768.00" y="229.20" text-anchor="middle">8</text><text x="815.50" y="229.20" text-anchor="middle">12</text><text x="863.00" y="229.20" text-anchor="middle">16</text><text x="910.50" y="229.20" text-anchor="middle">20</text><text x="958.00" y="229.20" text-anchor="middle">24</text></g>
<g font-family="Liberation Serif, serif" font-weight="bold" font-size="9"><text x="902.30" y="130.70" textLength="16.60" lengthAdjust="spacingAndGlyphs">FSP</text><text x="921.90" y="130.70" textLength="36.30" lengthAdjust="spacingAndGlyphs">(ug/m3)</text></g>
<path d="M46.750 242v3.5M46.750 326v-3.5M70.500 242v6M70.500 326v-6M94.250 242v3.5M94.250 326v-3.5M118.000 242v6M118.000 326v-6M141.750 242v3.5M141.750 326v-3.5M165.500 242v6M165.500 326v-6M189.250 242v3.5M189.250 326v-3.5M213.000 242v6M213.000 326v-6M236.750 242v3.5M236.750 326v-3.5M260.500 242v6M260.500 326v-6M284.250 242v3.5M284.250 326v-3.5M23 317.600h3.5M308 317.600h-3.5M23 309.200h6M308 309.200h-6M23 300.800h3.5M308 300.800h-3.5M23 292.400h6M308 292.400h-6M23 284.000h3.5M308 284.000h-3.5M23 275.600h6M308 275.600h-6M23 267.200h3.5M308 267.200h-3.5M23 258.800h6M308 258.800h-6M23 250.400h3.5M308 250.400h-3.5" stroke="#000" stroke-width="1"/>
<rect x="23" y="242" width="285" height="84" fill="none" stroke="#000" stroke-width="2"/>
<clipPath id="clipSO2"><rect x="23" y="242" width="285" height="84"/></clipPath>
<clipPath id="clipSO2i"><rect x="24" y="243" width="283" height="82"/></clipPath>
<g>
<path clip-path="url(#clipSO2)" d="M23.00 309.20L34.88 278.96L46.75 248.72L58.62 299.12L70.50 312.56L82.38 312.56L94.25 312.56L106.12 312.56L118.00 312.56L129.88 312.56L141.75 312.56L153.62 324.99L165.50 312.56L177.38 324.99L189.25 324.99L201.12 324.99L213.00 324.99L224.88 324.99L236.75 324.99L248.62 324.99L260.50 324.99L272.38 324.99L284.25 324.99L296.12 324.99L308.00 324.99" fill="none" stroke="#00ffff" stroke-width="1.1"/>
<path clip-path="url(#clipSO2)" d="M20.20 309.20H25.80M23.00 306.60V311.80M20.70 306.90L25.30 311.50M20.70 311.50L25.30 306.90M43.95 248.72H49.55M46.75 246.12V251.32M44.45 246.42L49.05 251.02M44.45 251.02L49.05 246.42M55.83 299.12H61.42M58.62 296.52V301.72M56.33 296.82L60.92 301.42M56.33 301.42L60.92 296.82M67.70 312.56H73.30M70.50 309.96V315.16M68.20 310.26L72.80 314.86M68.20 314.86L72.80 310.26M79.58 312.56H85.17M82.38 309.96V315.16M80.08 310.26L84.67 314.86M80.08 314.86L84.67 310.26M91.45 312.56H97.05M94.25 309.96V315.16M91.95 310.26L96.55 314.86M91.95 314.86L96.55 310.26M103.33 312.56H108.92M106.12 309.96V315.16M103.83 310.26L108.42 314.86M103.83 314.86L108.42 310.26M115.20 312.56H120.80M118.00 309.96V315.16M115.70 310.26L120.30 314.86M115.70 314.86L120.30 310.26M127.08 312.56H132.68M129.88 309.96V315.16M127.58 310.26L132.18 314.86M127.58 314.86L132.18 310.26M138.95 312.56H144.55M141.75 309.96V315.16M139.45 310.26L144.05 314.86M139.45 314.86L144.05 310.26M150.82 324.99H156.43M153.62 322.39V327.59M151.32 322.69L155.93 327.29M151.32 327.29L155.93 322.69M162.70 312.56H168.30M165.50 309.96V315.16M163.20 310.26L167.80 314.86M163.20 314.86L167.80 310.26M174.57 324.99H180.18M177.38 322.39V327.59M175.07 322.69L179.68 327.29M175.07 327.29L179.68 322.69M186.45 324.99H192.05M189.25 322.39V327.59M186.95 322.69L191.55 327.29M186.95 327.29L191.55 322.69M198.32 324.99H203.93M201.12 322.39V327.59M198.82 322.69L203.43 327.29M198.82 327.29L203.43 322.69M210.20 324.99H215.80M213.00 322.39V327.59M210.70 322.69L215.30 327.29M210.70 327.29L215.30 322.69M222.07 324.99H227.68M224.88 322.39V327.59M222.57 322.69L227.18 327.29M222.57 327.29L227.18 322.69M233.95 324.99H239.55M236.75 322.39V327.59M234.45 322.69L239.05 327.29M234.45 327.29L239.05 322.69M245.82 324.99H251.43M248.62 322.39V327.59M246.32 322.69L250.93 327.29M246.32 327.29L250.93 322.69M257.70 324.99H263.30M260.50 322.39V327.59M258.20 322.69L262.80 327.29M258.20 327.29L262.80 322.69M269.57 324.99H275.18M272.38 322.39V327.59M270.07 322.69L274.68 327.29M270.07 327.29L274.68 322.69M281.45 324.99H287.05M284.25 322.39V327.59M281.95 322.69L286.55 327.29M281.95 327.29L286.55 322.69M293.32 324.99H298.93M296.12 322.39V327.59M293.82 322.69L298.43 327.29M293.82 327.29L298.43 322.69M305.20 324.99H310.80M308.00 322.39V327.59M305.70 322.69L310.30 327.29M305.70 327.29L310.30 322.69" fill="none" stroke="#00ffff" stroke-width="1.15"/>
<path clip-path="url(#clipSO2)" d="M23.00 324.99L34.88 324.99L46.75 324.99L58.62 324.99L70.50 324.99L82.38 324.99L94.25 312.56L106.12 312.56L118.00 312.56L129.88 312.56L141.75 312.56L153.62 312.56L165.50 312.56L177.38 312.56L189.25 312.56L201.12 312.56L213.00 312.56L224.88 312.56L236.75 312.56L248.62 312.56L260.50 312.56L272.38 312.56L284.25 299.12L296.12 299.12L308.00 285.68" fill="none" stroke="#00ff00" stroke-width="1.1"/>
<path clip-path="url(#clipSO2)" d="M20.20 324.99H25.80M23.00 322.39V327.59M20.70 322.69L25.30 327.29M20.70 327.29L25.30 322.69M32.08 324.99H37.67M34.88 322.39V327.59M32.58 322.69L37.17 327.29M32.58 327.29L37.17 322.69M43.95 324.99H49.55M46.75 322.39V327.59M44.45 322.69L49.05 327.29M44.45 327.29L49.05 322.69M55.83 324.99H61.42M58.62 322.39V327.59M56.33 322.69L60.92 327.29M56.33 327.29L60.92 322.69M67.70 324.99H73.30M70.50 322.39V327.59M68.20 322.69L72.80 327.29M68.20 327.29L72.80 322.69M79.58 324.99H85.17M82.38 322.39V327.59M80.08 322.69L84.67 327.29M80.08 327.29L84.67 322.69M91.45 312.56H97.05M94.25 309.96V315.16M91.95 310.26L96.55 314.86M91.95 314.86L96.55 310.26M103.33 312.56H108.92M106.12 309.96V315.16M103.83 310.26L108.42 314.86M103.83 314.86L108.42 310.26M115.20 312.56H120.80M118.00 309.96V315.16M115.70 310.26L120.30 314.86M115.70 314.86L120.30 310.26M127.08 312.56H132.68M129.88 309.96V315.16M127.58 310.26L132.18 314.86M127.58 314.86L132.18 310.26M138.95 312.56H144.55M141.75 309.96V315.16M139.45 310.26L144.05 314.86M139.45 314.86L144.05 310.26M150.82 312.56H156.43M153.62 309.96V315.16M151.32 310.26L155.93 314.86M151.32 314.86L155.93 310.26M162.70 312.56H168.30M165.50 309.96V315.16M163.20 310.26L167.80 314.86M163.20 314.86L167.80 310.26M174.57 312.56H180.18M177.38 309.96V315.16M175.07 310.26L179.68 314.86M175.07 314.86L179.68 310.26M186.45 312.56H192.05M189.25 309.96V315.16M186.95 310.26L191.55 314.86M186.95 314.86L191.55 310.26M198.32 312.56H203.93M201.12 309.96V315.16M198.82 310.26L203.43 314.86M198.82 314.86L203.43 310.26M210.20 312.56H215.80M213.00 309.96V315.16M210.70 310.26L215.30 314.86M210.70 314.86L215.30 310.26M222.07 312.56H227.68M224.88 309.96V315.16M222.57 310.26L227.18 314.86M222.57 314.86L227.18 310.26M233.95 312.56H239.55M236.75 309.96V315.16M234.45 310.26L239.05 314.86M234.45 314.86L239.05 310.26M245.82 312.56H251.43M248.62 309.96V315.16M246.32 310.26L250.93 314.86M246.32 314.86L250.93 310.26M257.70 312.56H263.30M260.50 309.96V315.16M258.20 310.26L262.80 314.86M258.20 314.86L262.80 310.26M269.57 312.56H275.18M272.38 309.96V315.16M270.07 310.26L274.68 314.86M270.07 314.86L274.68 310.26M281.45 299.12H287.05M284.25 296.52V301.72M281.95 296.82L286.55 301.42M281.95 301.42L286.55 296.82M293.32 299.12H298.93M296.12 296.52V301.72M293.82 296.82L298.43 301.42M293.82 301.42L298.43 296.82M305.20 285.68H310.80M308.00 283.08V288.28M305.70 283.38L310.30 287.98M305.70 287.98L310.30 283.38" fill="none" stroke="#00ff00" stroke-width="1.15"/>
<path clip-path="url(#clipSO2)" d="M23.00 285.68L34.88 267.20L46.75 248.72L58.62 285.68L70.50 285.68L82.38 285.68L94.25 299.12L106.12 299.12L118.00 312.56L129.88 312.56L141.75 312.56L153.62 312.56L165.50 312.56L177.38 312.56L189.25 312.56L201.12 312.56L213.00 324.99L224.88 324.99L236.75 312.56L248.62 312.56L260.50 324.99L272.38 312.56L284.25 312.56L296.12 299.12L308.00 312.56" fill="none" stroke="#0000ff" stroke-width="1.1"/>
<path clip-path="url(#clipSO2)" d="M20.20 285.68H25.80M23.00 283.08V288.28M20.70 283.38L25.30 287.98M20.70 287.98L25.30 283.38M43.95 248.72H49.55M46.75 246.12V251.32M44.45 246.42L49.05 251.02M44.45 251.02L49.05 246.42M55.83 285.68H61.42M58.62 283.08V288.28M56.33 283.38L60.92 287.98M56.33 287.98L60.92 283.38M67.70 285.68H73.30M70.50 283.08V288.28M68.20 283.38L72.80 287.98M68.20 287.98L72.80 283.38M79.58 285.68H85.17M82.38 283.08V288.28M80.08 283.38L84.67 287.98M80.08 287.98L84.67 283.38M91.45 299.12H97.05M94.25 296.52V301.72M91.95 296.82L96.55 301.42M91.95 301.42L96.55 296.82M103.33 299.12H108.92M106.12 296.52V301.72M103.83 296.82L108.42 301.42M103.83 301.42L108.42 296.82M115.20 312.56H120.80M118.00 309.96V315.16M115.70 310.26L120.30 314.86M115.70 314.86L120.30 310.26M127.08 312.56H132.68M129.88 309.96V315.16M127.58 310.26L132.18 314.86M127.58 314.86L132.18 310.26M138.95 312.56H144.55M141.75 309.96V315.16M139.45 310.26L144.05 314.86M139.45 314.86L144.05 310.26M150.82 312.56H156.43M153.62 309.96V315.16M151.32 310.26L155.93 314.86M151.32 314.86L155.93 310.26M162.70 312.56H168.30M165.50 309.96V315.16M163.20 310.26L167.80 314.86M163.20 314.86L167.80 310.26M174.57 312.56H180.18M177.38 309.96V315.16M175.07 310.26L179.68 314.86M175.07 314.86L179.68 310.26M186.45 312.56H192.05M189.25 309.96V315.16M186.95 310.26L191.55 314.86M186.95 314.86L191.55 310.26M198.32 312.56H203.93M201.12 309.96V315.16M198.82 310.26L203.43 314.86M198.82 314.86L203.43 310.26M210.20 324.99H215.80M213.00 322.39V327.59M210.70 322.69L215.30 327.29M210.70 327.29L215.30 322.69M222.07 324.99H227.68M224.88 322.39V327.59M222.57 322.69L227.18 327.29M222.57 327.29L227.18 322.69M233.95 312.56H239.55M236.75 309.96V315.16M234.45 310.26L239.05 314.86M234.45 314.86L239.05 310.26M245.82 312.56H251.43M248.62 309.96V315.16M246.32 310.26L250.93 314.86M246.32 314.86L250.93 310.26M257.70 324.99H263.30M260.50 322.39V327.59M258.20 322.69L262.80 327.29M258.20 327.29L262.80 322.69M269.57 312.56H275.18M272.38 309.96V315.16M270.07 310.26L274.68 314.86M270.07 314.86L274.68 310.26M281.45 312.56H287.05M284.25 309.96V315.16M281.95 310.26L286.55 314.86M281.95 314.86L286.55 310.26M293.32 299.12H298.93M296.12 296.52V301.72M293.82 296.82L298.43 301.42M293.82 301.42L298.43 296.82M305.20 312.56H310.80M308.00 309.96V315.16M305.70 310.26L310.30 314.86M305.70 314.86L310.30 310.26" fill="none" stroke="#0000ff" stroke-width="1.15"/>
<path clip-path="url(#clipSO2)" d="M23.00 312.56L34.88 312.56L46.75 299.12L58.62 312.56L70.50 299.12L82.38 312.56L94.25 312.56L106.12 312.56L118.00 312.56L129.88 312.56L141.75 299.12L153.62 299.12L165.50 299.12L177.38 299.12L189.25 312.56L201.12 312.56L213.00 312.56L224.88 312.56L236.75 312.56L248.62 324.99L260.50 312.56L272.38 299.12L284.25 299.12L296.12 299.12L308.00 312.56" fill="none" stroke="#ff0000" stroke-width="1.1"/>
<path clip-path="url(#clipSO2)" d="M20.20 312.56H25.80M23.00 309.96V315.16M20.70 310.26L25.30 314.86M20.70 314.86L25.30 310.26M32.08 312.56H37.67M34.88 309.96V315.16M32.58 310.26L37.17 314.86M32.58 314.86L37.17 310.26M43.95 299.12H49.55M46.75 296.52V301.72M44.45 296.82L49.05 301.42M44.45 301.42L49.05 296.82M55.83 312.56H61.42M58.62 309.96V315.16M56.33 310.26L60.92 314.86M56.33 314.86L60.92 310.26M67.70 299.12H73.30M70.50 296.52V301.72M68.20 296.82L72.80 301.42M68.20 301.42L72.80 296.82M79.58 312.56H85.17M82.38 309.96V315.16M80.08 310.26L84.67 314.86M80.08 314.86L84.67 310.26M91.45 312.56H97.05M94.25 309.96V315.16M91.95 310.26L96.55 314.86M91.95 314.86L96.55 310.26M103.33 312.56H108.92M106.12 309.96V315.16M103.83 310.26L108.42 314.86M103.83 314.86L108.42 310.26M115.20 312.56H120.80M118.00 309.96V315.16M115.70 310.26L120.30 314.86M115.70 314.86L120.30 310.26M127.08 312.56H132.68M129.88 309.96V315.16M127.58 310.26L132.18 314.86M127.58 314.86L132.18 310.26M138.95 299.12H144.55M141.75 296.52V301.72M139.45 296.82L144.05 301.42M139.45 301.42L144.05 296.82M150.82 299.12H156.43M153.62 296.52V301.72M151.32 296.82L155.93 301.42M151.32 301.42L155.93 296.82M162.70 299.12H168.30M165.50 296.52V301.72M163.20 296.82L167.80 301.42M163.20 301.42L167.80 296.82M174.57 299.12H180.18M177.38 296.52V301.72M175.07 296.82L179.68 301.42M175.07 301.42L179.68 296.82M186.45 312.56H192.05M189.25 309.96V315.16M186.95 310.26L191.55 314.86M186.95 314.86L191.55 310.26M198.32 312.56H203.93M201.12 309.96V315.16M198.82 310.26L203.43 314.86M198.82 314.86L203.43 310.26M210.20 312.56H215.80M213.00 309.96V315.16M210.70 310.26L215.30 314.86M210.70 314.86L215.30 310.26M222.07 312.56H227.68M224.88 309.96V315.16M222.57 310.26L227.18 314.86M222.57 314.86L227.18 310.26M233.95 312.56H239.55M236.75 309.96V315.16M234.45 310.26L239.05 314.86M234.45 314.86L239.05 310.26M245.82 324.99H251.43M248.62 322.39V327.59M246.32 322.69L250.93 327.29M246.32 327.29L250.93 322.69M257.70 312.56H263.30M260.50 309.96V315.16M258.20 310.26L262.80 314.86M258.20 314.86L262.80 310.26M269.57 299.12H275.18M272.38 296.52V301.72M270.07 296.82L274.68 301.42M270.07 301.42L274.68 296.82M281.45 299.12H287.05M284.25 296.52V301.72M281.95 296.82L286.55 301.42M281.95 301.42L286.55 296.82M293.32 299.12H298.93M296.12 296.52V301.72M293.82 296.82L298.43 301.42M293.82 301.42L298.43 296.82M305.20 312.56H310.80M308.00 309.96V315.16M305.70 310.26L310.30 314.86M305.70 314.86L310.30 310.26" fill="none" stroke="#ff0000" stroke-width="1.15"/>
</g>
<path d="M70.500 326V242M118.000 326V242M165.500 326V242M213.000 326V242M260.500 326V242M23 309.200H308M23 292.400H308M23 275.600H308M23 258.800H308" stroke="#000" stroke-width="1" stroke-dasharray="1 2.08" stroke-dashoffset="1"/>
<g font-family="Liberation Sans, sans-serif" font-weight="bold" font-size="8.8"><text x="18.2" y="329.00" text-anchor="end">1.5</text><text x="18.2" y="312.20" text-anchor="end">2.0</text><text x="18.2" y="295.40" text-anchor="end">2.5</text><text x="18.2" y="278.60" text-anchor="end">3.0</text><text x="18.2" y="261.80" text-anchor="end">3.5</text><text x="18.2" y="245.00" text-anchor="end">4.0</text><text x="23.00" y="337.20" text-anchor="middle">0</text><text x="70.50" y="337.20" text-anchor="middle">4</text><text x="118.00" y="337.20" text-anchor="middle">8</text><text x="165.50" y="337.20" text-anchor="middle">12</text><text x="213.00" y="337.20" text-anchor="middle">16</text><text x="260.50" y="337.20" text-anchor="middle">20</text><text x="308.00" y="337.20" text-anchor="middle">24</text></g>
<g font-family="Liberation Serif, serif" font-weight="bold" font-size="9"><text x="266.80" y="238.70" textLength="15.70" lengthAdjust="spacingAndGlyphs">SO2</text><text x="286.00" y="238.70" textLength="23.20" lengthAdjust="spacingAndGlyphs">(ppb)</text></g>
<path d="M371.750 242v3.5M371.750 326v-3.5M395.500 242v6M395.500 326v-6M419.250 242v3.5M419.250 326v-3.5M443.000 242v6M443.000 326v-6M466.750 242v3.5M466.750 326v-3.5M490.500 242v6M490.500 326v-6M514.250 242v3.5M514.250 326v-3.5M538.000 242v6M538.000 326v-6M561.750 242v3.5M561.750 326v-3.5M585.500 242v6M585.500 326v-6M609.250 242v3.5M609.250 326v-3.5M348 317.600h3.5M633 317.600h-3.5M348 309.200h6M633 309.200h-6M348 300.800h3.5M633 300.800h-3.5M348 292.400h6M633 292.400h-6M348 284.000h3.5M633 284.000h-3.5M348 275.600h6M633 275.600h-6M348 267.200h3.5M633 267.200h-3.5M348 258.800h6M633 258.800h-6M348 250.400h3.5M633 250.400h-3.5" stroke="#000" stroke-width="1"/>
<rect x="348" y="242" width="285" height="84" fill="none" stroke="#000" stroke-width="2"/>
<clipPath id="clipO3"><rect x="348" y="242" width="285" height="84"/></clipPath>
<clipPath id="clipO3i"><rect x="349" y="243" width="283" height="82"/></clipPath>
<g>
<path clip-path="url(#clipO3i)" d="M348.00 303.90L359.88 298.40L371.75 292.90L383.62 284.60L395.50 283.10L407.38 291.50L419.25 300.00L431.12 308.50L443.00 314.30L454.88 310.30L466.75 303.90L478.62 279.00L490.50 276.00L502.38 264.20L514.25 265.80L526.12 269.30L538.00 266.00L549.88 283.80L561.75 287.50L573.62 296.30L585.50 301.60L597.38 300.40L609.25 298.10L621.12 294.60L633.00 294.00" fill="none" stroke="#00ffff" stroke-width="1.1"/>
<path clip-path="url(#clipO3)" d="M345.20 303.90H350.80M348.00 301.30V306.50M345.70 301.60L350.30 306.20M345.70 306.20L350.30 301.60M368.95 292.90H374.55M371.75 290.30V295.50M369.45 290.60L374.05 295.20M369.45 295.20L374.05 290.60M380.82 284.60H386.43M383.62 282.00V287.20M381.32 282.30L385.93 286.90M381.32 286.90L385.93 282.30M392.70 283.10H398.30M395.50 280.50V285.70M393.20 280.80L397.80 285.40M393.20 285.40L397.80 280.80M404.57 291.50H410.18M407.38 288.90V294.10M405.07 289.20L409.68 293.80M405.07 293.80L409.68 289.20M416.45 300.00H422.05M419.25 297.40V302.60M416.95 297.70L421.55 302.30M416.95 302.30L421.55 297.70M428.32 308.50H433.93M431.12 305.90V311.10M428.82 306.20L433.43 310.80M428.82 310.80L433.43 306.20M440.20 314.30H445.80M443.00 311.70V316.90M440.70 312.00L445.30 316.60M440.70 316.60L445.30 312.00M452.07 310.30H457.68M454.88 307.70V312.90M452.57 308.00L457.18 312.60M452.57 312.60L457.18 308.00M463.95 303.90H469.55M466.75 301.30V306.50M464.45 301.60L469.05 306.20M464.45 306.20L469.05 301.60M475.82 279.00H481.43M478.62 276.40V281.60M476.32 276.70L480.93 281.30M476.32 281.30L480.93 276.70M487.70 276.00H493.30M490.50 273.40V278.60M488.20 273.70L492.80 278.30M488.20 278.30L492.80 273.70M499.57 264.20H505.18M502.38 261.60V266.80M500.07 261.90L504.68 266.50M500.07 266.50L504.68 261.90M511.45 265.80H517.05M514.25 263.20V268.40M511.95 263.50L516.55 268.10M511.95 268.10L516.55 263.50M523.33 269.30H528.92M526.12 266.70V271.90M523.83 267.00L528.42 271.60M523.83 271.60L528.42 267.00M535.20 266.00H540.80M538.00 263.40V268.60M535.70 263.70L540.30 268.30M535.70 268.30L540.30 263.70M547.08 283.80H552.67M549.88 281.20V286.40M547.58 281.50L552.17 286.10M547.58 286.10L552.17 281.50M558.95 287.50H564.55M561.75 284.90V290.10M559.45 285.20L564.05 289.80M559.45 289.80L564.05 285.20M570.83 296.30H576.42M573.62 293.70V298.90M571.33 294.00L575.92 298.60M571.33 298.60L575.92 294.00M582.70 301.60H588.30M585.50 299.00V304.20M583.20 299.30L587.80 303.90M583.20 303.90L587.80 299.30M594.58 300.40H600.17M597.38 297.80V303.00M595.08 298.10L599.67 302.70M595.08 302.70L599.67 298.10M606.45 298.10H612.05M609.25 295.50V300.70M606.95 295.80L611.55 300.40M606.95 300.40L611.55 295.80M618.33 294.60H623.92M621.12 292.00V297.20M618.83 292.30L623.42 296.90M618.83 296.90L623.42 292.30M630.20 294.00H635.80M633.00 291.40V296.60M630.70 291.70L635.30 296.30M630.70 296.30L635.30 291.70" fill="none" stroke="#00ffff" stroke-width="1.15"/>
<path clip-path="url(#clipO3i)" d="M348.00 295.20L359.88 295.20L371.75 298.70L383.62 298.70L395.50 280.10L407.38 276.30L419.25 289.70L431.12 298.40L443.00 295.20L454.88 289.40L466.75 290.00L478.62 280.40L490.50 282.60L502.38 276.40L514.25 276.10L526.12 277.20L538.00 275.50L549.88 279.40L561.75 297.50L573.62 302.20L585.50 310.30L597.38 320.20L609.25 323.10L621.12 322.50L633.00 320.80" fill="none" stroke="#00ff00" stroke-width="1.1"/>
<path clip-path="url(#clipO3)" d="M345.20 295.20H350.80M348.00 292.60V297.80M345.70 292.90L350.30 297.50M345.70 297.50L350.30 292.90M357.07 295.20H362.68M359.88 292.60V297.80M357.57 292.90L362.18 297.50M357.57 297.50L362.18 292.90M368.95 298.70H374.55M371.75 296.10V301.30M369.45 296.40L374.05 301.00M369.45 301.00L374.05 296.40M380.82 298.70H386.43M383.62 296.10V301.30M381.32 296.40L385.93 301.00M381.32 301.00L385.93 296.40M392.70 280.10H398.30M395.50 277.50V282.70M393.20 277.80L397.80 282.40M393.20 282.40L397.80 277.80M404.57 276.30H410.18M407.38 273.70V278.90M405.07 274.00L409.68 278.60M405.07 278.60L409.68 274.00M416.45 289.70H422.05M419.25 287.10V292.30M416.95 287.40L421.55 292.00M416.95 292.00L421.55 287.40M428.32 298.40H433.93M431.12 295.80V301.00M428.82 296.10L433.43 300.70M428.82 300.70L433.43 296.10M440.20 295.20H445.80M443.00 292.60V297.80M440.70 292.90L445.30 297.50M440.70 297.50L445.30 292.90M452.07 289.40H457.68M454.88 286.80V292.00M452.57 287.10L457.18 291.70M452.57 291.70L457.18 287.10M463.95 290.00H469.55M466.75 287.40V292.60M464.45 287.70L469.05 292.30M464.45 292.30L469.05 287.70M475.82 280.40H481.43M478.62 277.80V283.00M476.32 278.10L480.93 282.70M476.32 282.70L480.93 278.10M487.70 282.60H493.30M490.50 280.00V285.20M488.20 280.30L492.80 284.90M488.20 284.90L492.80 280.30M499.57 276.40H505.18M502.38 273.80V279.00M500.07 274.10L504.68 278.70M500.07 278.70L504.68 274.10M511.45 276.10H517.05M514.25 273.50V278.70M511.95 273.80L516.55 278.40M511.95 278.40L516.55 273.80M523.33 277.20H528.92M526.12 274.60V279.80M523.83 274.90L528.42 279.50M523.83 279.50L528.42 274.90M535.20 275.50H540.80M538.00 272.90V278.10M535.70 273.20L540.30 277.80M535.70 277.80L540.30 273.20M547.08 279.40H552.67M549.88 276.80V282.00M547.58 277.10L552.17 281.70M547.58 281.70L552.17 277.10M558.95 297.50H564.55M561.75 294.90V300.10M559.45 295.20L564.05 299.80M559.45 299.80L564.05 295.20M570.83 302.20H576.42M573.62 299.60V304.80M571.33 299.90L575.92 304.50M571.33 304.50L575.92 299.90M582.70 310.30H588.30M585.50 307.70V312.90M583.20 308.00L587.80 312.60M583.20 312.60L587.80 308.00M594.58 320.20H600.17M597.38 317.60V322.80M595.08 317.90L599.67 322.50M595.08 322.50L599.67 317.90M606.45 323.10H612.05M609.25 320.50V325.70M606.95 320.80L611.55 325.40M606.95 325.40L611.55 320.80M618.33 322.50H623.92M621.12 319.90V325.10M618.83 320.20L623.42 324.80M618.83 324.80L623.42 320.20M630.20 320.80H635.80M633.00 318.20V323.40M630.70 318.50L635.30 323.10M630.70 323.10L635.30 318.50" fill="none" stroke="#00ff00" stroke-width="1.15"/>
<path clip-path="url(#clipO3i)" d="M348.00 320.80L359.88 318.40L371.75 316.10L383.62 317.60L395.50 320.80L407.38 322.00L419.25 313.70L431.12 313.70L443.00 312.20L454.88 305.10L466.75 302.20L478.62 291.20L490.50 269.10L502.38 257.30L514.25 275.00L526.12 288.50L538.00 276.40L549.88 293.40L561.75 298.10L573.62 302.20L585.50 305.10L597.38 318.40L609.25 320.20L621.12 317.60L633.00 317.30" fill="none" stroke="#0000ff" stroke-width="1.1"/>
<path clip-path="url(#clipO3)" d="M345.20 320.80H350.80M348.00 318.20V323.40M345.70 318.50L350.30 323.10M345.70 323.10L350.30 318.50M368.95 316.10H374.55M371.75 313.50V318.70M369.45 313.80L374.05 318.40M369.45 318.40L374.05 313.80M380.82 317.60H386.43M383.62 315.00V320.20M381.32 315.30L385.93 319.90M381.32 319.90L385.93 315.30M392.70 320.80H398.30M395.50 318.20V323.40M393.20 318.50L397.80 323.10M393.20 323.10L397.80 318.50M404.57 322.00H410.18M407.38 319.40V324.60M405.07 319.70L409.68 324.30M405.07 324.30L409.68 319.70M416.45 313.70H422.05M419.25 311.10V316.30M416.95 311.40L421.55 316.00M416.95 316.00L421.55 311.40M428.32 313.70H433.93M431.12 311.10V316.30M428.82 311.40L433.43 316.00M428.82 316.00L433.43 311.40M440.20 312.20H445.80M443.00 309.60V314.80M440.70 309.90L445.30 314.50M440.70 314.50L445.30 309.90M452.07 305.10H457.68M454.88 302.50V307.70M452.57 302.80L457.18 307.40M452.57 307.40L457.18 302.80M463.95 302.20H469.55M466.75 299.60V304.80M464.45 299.90L469.05 304.50M464.45 304.50L469.05 299.90M475.82 291.20H481.43M478.62 288.60V293.80M476.32 288.90L480.93 293.50M476.32 293.50L480.93 288.90M487.70 269.10H493.30M490.50 266.50V271.70M488.20 266.80L492.80 271.40M488.20 271.40L492.80 266.80M499.57 257.30H505.18M502.38 254.70V259.90M500.07 255.00L504.68 259.60M500.07 259.60L504.68 255.00M511.45 275.00H517.05M514.25 272.40V277.60M511.95 272.70L516.55 277.30M511.95 277.30L516.55 272.70M523.33 288.50H528.92M526.12 285.90V291.10M523.83 286.20L528.42 290.80M523.83 290.80L528.42 286.20M535.20 276.40H540.80M538.00 273.80V279.00M535.70 274.10L540.30 278.70M535.70 278.70L540.30 274.10M547.08 293.40H552.67M549.88 290.80V296.00M547.58 291.10L552.17 295.70M547.58 295.70L552.17 291.10M558.95 298.10H564.55M561.75 295.50V300.70M559.45 295.80L564.05 300.40M559.45 300.40L564.05 295.80M570.83 302.20H576.42M573.62 299.60V304.80M571.33 299.90L575.92 304.50M571.33 304.50L575.92 299.90M582.70 305.10H588.30M585.50 302.50V307.70M583.20 302.80L587.80 307.40M583.20 307.40L587.80 302.80M594.58 318.40H600.17M597.38 315.80V321.00M595.08 316.10L599.67 320.70M595.08 320.70L599.67 316.10M606.45 320.20H612.05M609.25 317.60V322.80M606.95 317.90L611.55 322.50M606.95 322.50L611.55 317.90M618.33 317.60H623.92M621.12 315.00V320.20M618.83 315.30L623.42 319.90M618.83 319.90L623.42 315.30M630.20 317.30H635.80M633.00 314.70V319.90M630.70 315.00L635.30 319.60M630.70 319.60L635.30 315.00" fill="none" stroke="#0000ff" stroke-width="1.15"/>
<path clip-path="url(#clipO3i)" d="M348.00 316.70L359.88 313.80L371.75 312.00L383.62 313.80L395.50 319.30L407.38 308.80L419.25 302.00L431.12 306.80L443.00 301.70L454.88 296.70L466.75 300.40L478.62 295.00L490.50 279.60L502.38 272.50L514.25 272.90L526.12 281.20L538.00 279.50L549.88 281.20L561.75 283.00L573.62 279.50L585.50 313.20L597.38 320.20L609.25 320.80L621.12 313.80L633.00 315.00" fill="none" stroke="#ff0000" stroke-width="1.1"/>
<path clip-path="url(#clipO3)" d="M345.20 316.70H350.80M348.00 314.10V319.30M345.70 314.40L350.30 319.00M345.70 319.00L350.30 314.40M357.07 313.80H362.68M359.88 311.20V316.40M357.57 311.50L362.18 316.10M357.57 316.10L362.18 311.50M368.95 312.00H374.55M371.75 309.40V314.60M369.45 309.70L374.05 314.30M369.45 314.30L374.05 309.70M380.82 313.80H386.43M383.62 311.20V316.40M381.32 311.50L385.93 316.10M381.32 316.10L385.93 311.50M392.70 319.30H398.30M395.50 316.70V321.90M393.20 317.00L397.80 321.60M393.20 321.60L397.80 317.00M404.57 308.80H410.18M407.38 306.20V311.40M405.07 306.50L409.68 311.10M405.07 311.10L409.68 306.50M416.45 302.00H422.05M419.25 299.40V304.60M416.95 299.70L421.55 304.30M416.95 304.30L421.55 299.70M428.32 306.80H433.93M431.12 304.20V309.40M428.82 304.50L433.43 309.10M428.82 309.10L433.43 304.50M440.20 301.70H445.80M443.00 299.10V304.30M440.70 299.40L445.30 304.00M440.70 304.00L445.30 299.40M452.07 296.70H457.68M454.88 294.10V299.30M452.57 294.40L457.18 299.00M452.57 299.00L457.18 294.40M463.95 300.40H469.55M466.75 297.80V303.00M464.45 298.10L469.05 302.70M464.45 302.70L469.05 298.10M475.82 295.00H481.43M478.62 292.40V297.60M476.32 292.70L480.93 297.30M476.32 297.30L480.93 292.70M487.70 279.60H493.30M490.50 277.00V282.20M488.20 277.30L492.80 281.90M488.20 281.90L492.80 277.30M499.57 272.50H505.18M502.38 269.90V275.10M500.07 270.20L504.68 274.80M500.07 274.80L504.68 270.20M511.45 272.90H517.05M514.25 270.30V275.50M511.95 270.60L516.55 275.20M511.95 275.20L516.55 270.60M523.33 281.20H528.92M526.12 278.60V283.80M523.83 278.90L528.42 283.50M523.83 283.50L528.42 278.90M535.20 279.50H540.80M538.00 276.90V282.10M535.70 277.20L540.30 281.80M535.70 281.80L540.30 277.20M547.08 281.20H552.67M549.88 278.60V283.80M547.58 278.90L552.17 283.50M547.58 283.50L552.17 278.90M558.95 283.00H564.55M561.75 280.40V285.60M559.45 280.70L564.05 285.30M559.45 285.30L564.05 280.70M570.83 279.50H576.42M573.62 276.90V282.10M571.33 277.20L575.92 281.80M571.33 281.80L575.92 277.20M582.70 313.20H588.30M585.50 310.60V315.80M583.20 310.90L587.80 315.50M583.20 315.50L587.80 310.90M594.58 320.20H600.17M597.38 317.60V322.80M595.08 317.90L599.67 322.50M595.08 322.50L599.67 317.90M606.45 320.80H612.05M609.25 318.20V323.40M606.95 318.50L611.55 323.10M606.95 323.10L611.55 318.50M618.33 313.80H623.92M621.12 311.20V316.40M618.83 311.50L623.42 316.10M618.83 316.10L623.42 311.50M630.20 315.00H635.80M633.00 312.40V317.60M630.70 312.70L635.30 317.30M630.70 317.30L635.30 312.70" fill="none" stroke="#ff0000" stroke-width="1.15"/>
</g>
<path d="M395.500 326V242M443.000 326V242M490.500 326V242M538.000 326V242M585.500 326V242M348 309.200H633M348 292.400H633M348 275.600H633M348 258.800H633" stroke="#000" stroke-width="1" stroke-dasharray="1 2.08" stroke-dashoffset="1"/>
<g font-family="Liberation Sans, sans-serif" font-weight="bold" font-size="8.8"><text x="343.2" y="329.00" text-anchor="end">0</text><text x="343.2" y="312.20" text-anchor="end">5</text><text x="343.2" y="295.40" text-anchor="end">10</text><text x="343.2" y="278.60" text-anchor="end">15</text><text x="343.2" y="261.80" text-anchor="end">20</text><text x="343.2" y="245.00" text-anchor="end">25</text><text x="348.00" y="337.20" text-anchor="middle">0</text><text x="395.50" y="337.20" text-anchor="middle">4</text><text x="443.00" y="337.20" text-anchor="middle">8</text><text x="490.50" y="337.20" text-anchor="middle">12</text><text x="538.00" y="337.20" text-anchor="middle">16</text><text x="585.50" y="337.20" text-anchor="middle">20</text><text x="633.00" y="337.20" text-anchor="middle">24</text></g>
<g font-family="Liberation Serif, serif" font-weight="bold" font-size="9"><text x="597.10" y="238.70" textLength="10.90" lengthAdjust="spacingAndGlyphs">O3</text><text x="611.00" y="238.70" textLength="23.20" lengthAdjust="spacingAndGlyphs">(ppb)</text></g>
<path d="M696.750 242v3.5M696.750 326v-3.5M720.500 242v6M720.500 326v-6M744.250 242v3.5M744.250 326v-3.5M768.000 242v6M768.000 326v-6M791.750 242v3.5M791.750 326v-3.5M815.500 242v6M815.500 326v-6M839.250 242v3.5M839.250 326v-3.5M863.000 242v6M863.000 326v-6M886.750 242v3.5M886.750 326v-3.5M910.500 242v6M910.500 326v-6M934.250 242v3.5M934.250 326v-3.5M673 321.333h3.5M958 321.333h-3.5M673 316.667h6M958 316.667h-6M673 312.000h3.5M958 312.000h-3.5M673 307.333h6M958 307.333h-6M673 302.667h3.5M958 302.667h-3.5M673 298.000h6M958 298.000h-6M673 293.333h3.5M958 293.333h-3.5M673 288.667h6M958 288.667h-6M673 284.000h3.5M958 284.000h-3.5M673 279.333h6M958 279.333h-6M673 274.667h3.5M958 274.667h-3.5M673 270.000h6M958 270.000h-6M673 265.333h3.5M958 265.333h-3.5M673 260.667h6M958 260.667h-6M673 256.000h3.5M958 256.000h-3.5M673 251.333h6M958 251.333h-6M673 246.667h3.5M958 246.667h-3.5" stroke="#000" stroke-width="1"/>
<rect x="673" y="242" width="285" height="84" fill="none" stroke="#000" stroke-width="2"/>
<clipPath id="clipCO"><rect x="673" y="242" width="285" height="84"/></clipPath>
<clipPath id="clipCOi"><rect x="674" y="243" width="283" height="82"/></clipPath>
<g>
<path clip-path="url(#clipCOi)" d="M673.00 293.20L684.88 301.20L696.75 309.10L708.62 309.10L720.50 313.20L732.38 313.20L744.25 309.10L756.12 292.30L768.00 269.90L779.88 260.90L791.75 272.10L803.62 285.00L815.50 272.70L827.38 272.70L839.25 264.80L851.12 264.80L863.00 272.70L874.88 264.80L886.75 264.80L898.62 252.00L910.50 244.20L922.38 260.90L934.25 264.20L946.12 283.70L958.00 288.40" fill="none" stroke="#00ffff" stroke-width="1.1"/>
<path clip-path="url(#clipCO)" d="M670.20 293.20H675.80M673.00 290.60V295.80M670.70 290.90L675.30 295.50M670.70 295.50L675.30 290.90M693.95 309.10H699.55M696.75 306.50V311.70M694.45 306.80L699.05 311.40M694.45 311.40L699.05 306.80M705.83 309.10H711.42M708.62 306.50V311.70M706.33 306.80L710.92 311.40M706.33 311.40L710.92 306.80M717.70 313.20H723.30M720.50 310.60V315.80M718.20 310.90L722.80 315.50M718.20 315.50L722.80 310.90M729.58 313.20H735.17M732.38 310.60V315.80M730.08 310.90L734.67 315.50M730.08 315.50L734.67 310.90M741.45 309.10H747.05M744.25 306.50V311.70M741.95 306.80L746.55 311.40M741.95 311.40L746.55 306.80M753.33 292.30H758.92M756.12 289.70V294.90M753.83 290.00L758.42 294.60M753.83 294.60L758.42 290.00M765.20 269.90H770.80M768.00 267.30V272.50M765.70 267.60L770.30 272.20M765.70 272.20L770.30 267.60M777.08 260.90H782.67M779.88 258.30V263.50M777.58 258.60L782.17 263.20M777.58 263.20L782.17 258.60M788.95 272.10H794.55M791.75 269.50V274.70M789.45 269.80L794.05 274.40M789.45 274.40L794.05 269.80M800.83 285.00H806.42M803.62 282.40V287.60M801.33 282.70L805.92 287.30M801.33 287.30L805.92 282.70M812.70 272.70H818.30M815.50 270.10V275.30M813.20 270.40L817.80 275.00M813.20 275.00L817.80 270.40M824.58 272.70H830.17M827.38 270.10V275.30M825.08 270.40L829.67 275.00M825.08 275.00L829.67 270.40M836.45 264.80H842.05M839.25 262.20V267.40M836.95 262.50L841.55 267.10M836.95 267.10L841.55 262.50M848.33 264.80H853.92M851.12 262.20V267.40M848.83 262.50L853.42 267.10M848.83 267.10L853.42 262.50M860.20 272.70H865.80M863.00 270.10V275.30M860.70 270.40L865.30 275.00M860.70 275.00L865.30 270.40M872.08 264.80H877.67M874.88 262.20V267.40M872.58 262.50L877.17 267.10M872.58 267.10L877.17 262.50M883.95 264.80H889.55M886.75 262.20V267.40M884.45 262.50L889.05 267.10M884.45 267.10L889.05 262.50M895.83 252.00H901.42M898.62 249.40V254.60M896.33 249.70L900.92 254.30M896.33 254.30L900.92 249.70M907.70 244.20H913.30M910.50 241.60V246.80M908.20 241.90L912.80 246.50M908.20 246.50L912.80 241.90M919.58 260.90H925.17M922.38 258.30V263.50M920.08 258.60L924.67 263.20M920.08 263.20L924.67 258.60M931.45 264.20H937.05M934.25 261.60V266.80M931.95 261.90L936.55 266.50M931.95 266.50L936.55 261.90M943.33 283.70H948.92M946.12 281.10V286.30M943.83 281.40L948.42 286.00M943.83 286.00L948.42 281.40M955.20 288.40H960.80M958.00 285.80V291.00M955.70 286.10L960.30 290.70M955.70 290.70L960.30 286.10" fill="none" stroke="#00ffff" stroke-width="1.15"/>
<path clip-path="url(#clipCOi)" d="M673.00 288.60L684.88 296.90L696.75 304.40L708.62 308.90L720.50 317.30L732.38 317.30L744.25 313.20L756.12 305.10L768.00 301.30L779.88 297.20L791.75 289.40L803.62 289.40L815.50 292.30L827.38 284.50L839.25 288.80L851.12 285.30L863.00 276.40L874.88 297.50L886.75 284.80L898.62 277.10L910.50 277.10L922.38 277.10L934.25 277.00L946.12 284.20L958.00 296.00" fill="none" stroke="#00ff00" stroke-width="1.1"/>
<path clip-path="url(#clipCO)" d="M670.20 288.60H675.80M673.00 286.00V291.20M670.70 286.30L675.30 290.90M670.70 290.90L675.30 286.30M682.08 296.90H687.67M684.88 294.30V299.50M682.58 294.60L687.17 299.20M682.58 299.20L687.17 294.60M693.95 304.40H699.55M696.75 301.80V307.00M694.45 302.10L699.05 306.70M694.45 306.70L699.05 302.10M705.83 308.90H711.42M708.62 306.30V311.50M706.33 306.60L710.92 311.20M706.33 311.20L710.92 306.60M717.70 317.30H723.30M720.50 314.70V319.90M718.20 315.00L722.80 319.60M718.20 319.60L722.80 315.00M729.58 317.30H735.17M732.38 314.70V319.90M730.08 315.00L734.67 319.60M730.08 319.60L734.67 315.00M741.45 313.20H747.05M744.25 310.60V315.80M741.95 310.90L746.55 315.50M741.95 315.50L746.55 310.90M753.33 305.10H758.92M756.12 302.50V307.70M753.83 302.80L758.42 307.40M753.83 307.40L758.42 302.80M765.20 301.30H770.80M768.00 298.70V303.90M765.70 299.00L770.30 303.60M765.70 303.60L770.30 299.00M777.08 297.20H782.67M779.88 294.60V299.80M777.58 294.90L782.17 299.50M777.58 299.50L782.17 294.90M788.95 289.40H794.55M791.75 286.80V292.00M789.45 287.10L794.05 291.70M789.45 291.70L794.05 287.10M800.83 289.40H806.42M803.62 286.80V292.00M801.33 287.10L805.92 291.70M801.33 291.70L805.92 287.10M812.70 292.30H818.30M815.50 289.70V294.90M813.20 290.00L817.80 294.60M813.20 294.60L817.80 290.00M824.58 284.50H830.17M827.38 281.90V287.10M825.08 282.20L829.67 286.80M825.08 286.80L829.67 282.20M836.45 288.80H842.05M839.25 286.20V291.40M836.95 286.50L841.55 291.10M836.95 291.10L841.55 286.50M848.33 285.30H853.92M851.12 282.70V287.90M848.83 283.00L853.42 287.60M848.83 287.60L853.42 283.00M860.20 276.40H865.80M863.00 273.80V279.00M860.70 274.10L865.30 278.70M860.70 278.70L865.30 274.10M872.08 297.50H877.67M874.88 294.90V300.10M872.58 295.20L877.17 299.80M872.58 299.80L877.17 295.20M883.95 284.80H889.55M886.75 282.20V287.40M884.45 282.50L889.05 287.10M884.45 287.10L889.05 282.50M895.83 277.10H901.42M898.62 274.50V279.70M896.33 274.80L900.92 279.40M896.33 279.40L900.92 274.80M907.70 277.10H913.30M910.50 274.50V279.70M908.20 274.80L912.80 279.40M908.20 279.40L912.80 274.80M919.58 277.10H925.17M922.38 274.50V279.70M920.08 274.80L924.67 279.40M920.08 279.40L924.67 274.80M931.45 277.00H937.05M934.25 274.40V279.60M931.95 274.70L936.55 279.30M931.95 279.30L936.55 274.70M943.33 284.20H948.92M946.12 281.60V286.80M943.83 281.90L948.42 286.50M943.83 286.50L948.42 281.90M955.20 296.00H960.80M958.00 293.40V298.60M955.70 293.70L960.30 298.30M955.70 298.30L960.30 293.70" fill="none" stroke="#00ff00" stroke-width="1.15"/>
<path clip-path="url(#clipCOi)" d="M673.00 296.30L684.88 308.60L696.75 321.00L708.62 313.00L720.50 313.20L732.38 309.10L744.25 305.10L756.12 281.20L768.00 260.90L779.88 260.90L791.75 273.00L803.62 280.90L815.50 309.10L827.38 313.20L839.25 296.90L851.12 289.40L863.00 289.40L874.88 284.80L886.75 272.70L898.62 260.90L910.50 277.10L922.38 264.80L934.25 281.20L946.12 284.50L958.00 297.00" fill="none" stroke="#0000ff" stroke-width="1.1"/>
<path clip-path="url(#clipCO)" d="M670.20 296.30H675.80M673.00 293.70V298.90M670.70 294.00L675.30 298.60M670.70 298.60L675.30 294.00M693.95 321.00H699.55M696.75 318.40V323.60M694.45 318.70L699.05 323.30M694.45 323.30L699.05 318.70M705.83 313.00H711.42M708.62 310.40V315.60M706.33 310.70L710.92 315.30M706.33 315.30L710.92 310.70M717.70 313.20H723.30M720.50 310.60V315.80M718.20 310.90L722.80 315.50M718.20 315.50L722.80 310.90M729.58 309.10H735.17M732.38 306.50V311.70M730.08 306.80L734.67 311.40M730.08 311.40L734.67 306.80M741.45 305.10H747.05M744.25 302.50V307.70M741.95 302.80L746.55 307.40M741.95 307.40L746.55 302.80M753.33 281.20H758.92M756.12 278.60V283.80M753.83 278.90L758.42 283.50M753.83 283.50L758.42 278.90M765.20 260.90H770.80M768.00 258.30V263.50M765.70 258.60L770.30 263.20M765.70 263.20L770.30 258.60M777.08 260.90H782.67M779.88 258.30V263.50M777.58 258.60L782.17 263.20M777.58 263.20L782.17 258.60M788.95 273.00H794.55M791.75 270.40V275.60M789.45 270.70L794.05 275.30M789.45 275.30L794.05 270.70M800.83 280.90H806.42M803.62 278.30V283.50M801.33 278.60L805.92 283.20M801.33 283.20L805.92 278.60M812.70 309.10H818.30M815.50 306.50V311.70M813.20 306.80L817.80 311.40M813.20 311.40L817.80 306.80M824.58 313.20H830.17M827.38 310.60V315.80M825.08 310.90L829.67 315.50M825.08 315.50L829.67 310.90M836.45 296.90H842.05M839.25 294.30V299.50M836.95 294.60L841.55 299.20M836.95 299.20L841.55 294.60M848.33 289.40H853.92M851.12 286.80V292.00M848.83 287.10L853.42 291.70M848.83 291.70L853.42 287.10M860.20 289.40H865.80M863.00 286.80V292.00M860.70 287.10L865.30 291.70M860.70 291.70L865.30 287.10M872.08 284.80H877.67M874.88 282.20V287.40M872.58 282.50L877.17 287.10M872.58 287.10L877.17 282.50M883.95 272.70H889.55M886.75 270.10V275.30M884.45 270.40L889.05 275.00M884.45 275.00L889.05 270.40M895.83 260.90H901.42M898.62 258.30V263.50M896.33 258.60L900.92 263.20M896.33 263.20L900.92 258.60M907.70 277.10H913.30M910.50 274.50V279.70M908.20 274.80L912.80 279.40M908.20 279.40L912.80 274.80M919.58 264.80H925.17M922.38 262.20V267.40M920.08 262.50L924.67 267.10M920.08 267.10L924.67 262.50M931.45 281.20H937.05M934.25 278.60V283.80M931.95 278.90L936.55 283.50M931.95 283.50L936.55 278.90M943.33 284.50H948.92M946.12 281.90V287.10M943.83 282.20L948.42 286.80M943.83 286.80L948.42 282.20M955.20 297.00H960.80M958.00 294.40V299.60M955.70 294.70L960.30 299.30M955.70 299.30L960.30 294.70" fill="none" stroke="#0000ff" stroke-width="1.15"/>
<path clip-path="url(#clipCOi)" d="M673.00 296.30L684.88 309.50L696.75 317.30L708.62 309.20L720.50 309.10L732.38 317.30L744.25 321.30L756.12 300.40L768.00 300.70L779.88 288.80L791.75 277.00L803.62 284.30L815.50 293.40L827.38 297.20L839.25 301.00L851.12 284.60L863.00 288.80L874.88 293.40L886.75 284.80L898.62 281.20L910.50 256.50L922.38 260.90L934.25 268.30L946.12 297.00L958.00 301.00" fill="none" stroke="#ff0000" stroke-width="1.1"/>
<path clip-path="url(#clipCO)" d="M670.20 296.30H675.80M673.00 293.70V298.90M670.70 294.00L675.30 298.60M670.70 298.60L675.30 294.00M682.08 309.50H687.67M684.88 306.90V312.10M682.58 307.20L687.17 311.80M682.58 311.80L687.17 307.20M693.95 317.30H699.55M696.75 314.70V319.90M694.45 315.00L699.05 319.60M694.45 319.60L699.05 315.00M705.83 309.20H711.42M708.62 306.60V311.80M706.33 306.90L710.92 311.50M706.33 311.50L710.92 306.90M717.70 309.10H723.30M720.50 306.50V311.70M718.20 306.80L722.80 311.40M718.20 311.40L722.80 306.80M729.58 317.30H735.17M732.38 314.70V319.90M730.08 315.00L734.67 319.60M730.08 319.60L734.67 315.00M741.45 321.30H747.05M744.25 318.70V323.90M741.95 319.00L746.55 323.60M741.95 323.60L746.55 319.00M753.33 300.40H758.92M756.12 297.80V303.00M753.83 298.10L758.42 302.70M753.83 302.70L758.42 298.10M765.20 300.70H770.80M768.00 298.10V303.30M765.70 298.40L770.30 303.00M765.70 303.00L770.30 298.40M777.08 288.80H782.67M779.88 286.20V291.40M777.58 286.50L782.17 291.10M777.58 291.10L782.17 286.50M788.95 277.00H794.55M791.75 274.40V279.60M789.45 274.70L794.05 279.30M789.45 279.30L794.05 274.70M800.83 284.30H806.42M803.62 281.70V286.90M801.33 282.00L805.92 286.60M801.33 286.60L805.92 282.00M812.70 293.40H818.30M815.50 290.80V296.00M813.20 291.10L817.80 295.70M813.20 295.70L817.80 291.10M824.58 297.20H830.17M827.38 294.60V299.80M825.08 294.90L829.67 299.50M825.08 299.50L829.67 294.90M836.45 301.00H842.05M839.25 298.40V303.60M836.95 298.70L841.55 303.30M836.95 303.30L841.55 298.70M848.33 284.60H853.92M851.12 282.00V287.20M848.83 282.30L853.42 286.90M848.83 286.90L853.42 282.30M860.20 288.80H865.80M863.00 286.20V291.40M860.70 286.50L865.30 291.10M860.70 291.10L865.30 286.50M872.08 293.40H877.67M874.88 290.80V296.00M872.58 291.10L877.17 295.70M872.58 295.70L877.17 291.10M883.95 284.80H889.55M886.75 282.20V287.40M884.45 282.50L889.05 287.10M884.45 287.10L889.05 282.50M895.83 281.20H901.42M898.62 278.60V283.80M896.33 278.90L900.92 283.50M896.33 283.50L900.92 278.90M907.70 256.50H913.30M910.50 253.90V259.10M908.20 254.20L912.80 258.80M908.20 258.80L912.80 254.20M919.58 260.90H925.17M922.38 258.30V263.50M920.08 258.60L924.67 263.20M920.08 263.20L924.67 258.60M931.45 268.30H937.05M934.25 265.70V270.90M931.95 266.00L936.55 270.60M931.95 270.60L936.55 266.00M943.33 297.00H948.92M946.12 294.40V299.60M943.83 294.70L948.42 299.30M943.83 299.30L948.42 294.70M955.20 301.00H960.80M958.00 298.40V303.60M955.70 298.70L960.30 303.30M955.70 303.30L960.30 298.70" fill="none" stroke="#ff0000" stroke-width="1.15"/>
</g>
<path d="M720.500 326V242M768.000 326V242M815.500 326V242M863.000 326V242M910.500 326V242M673 316.667H958M673 307.333H958M673 298.000H958M673 288.667H958M673 279.333H958M673 270.000H958M673 260.667H958M673 251.333H958" stroke="#000" stroke-width="1" stroke-dasharray="1 2.08" stroke-dashoffset="1"/>
<g font-family="Liberation Sans, sans-serif" font-weight="bold" font-size="8.8"><text x="668.2" y="329.00" text-anchor="end">0.26</text><text x="668.2" y="319.67" text-anchor="end">0.28</text><text x="668.2" y="310.33" text-anchor="end">0.30</text><text x="668.2" y="301.00" text-anchor="end">0.32</text><text x="668.2" y="291.67" text-anchor="end">0.34</text><text x="668.2" y="282.33" text-anchor="end">0.36</text><text x="668.2" y="273.00" text-anchor="end">0.38</text><text x="668.2" y="263.67" text-anchor="end">0.40</text><text x="668.2" y="254.33" text-anchor="end">0.42</text><text x="668.2" y="245.00" text-anchor="end">0.44</text><text x="673.00" y="337.20" text-anchor="middle">0</text><text x="720.50" y="337.20" text-anchor="middle">4</text><text x="768.00" y="337.20" text-anchor="middle">8</text><text x="815.50" y="337.20" text-anchor="middle">12</text><text x="863.00" y="337.20" text-anchor="middle">16</text><text x="910.50" y="337.20" text-anchor="middle">20</text><text x="958.00" y="337.20" text-anchor="middle">24</text></g>
<g font-family="Liberation Serif, serif" font-weight="bold" font-size="9"><text x="918.40" y="238.70" textLength="10.90" lengthAdjust="spacingAndGlyphs">CO</text><text x="932.40" y="238.70" textLength="26.80" lengthAdjust="spacingAndGlyphs">(ppm)</text></g>
</svg></body></html>
